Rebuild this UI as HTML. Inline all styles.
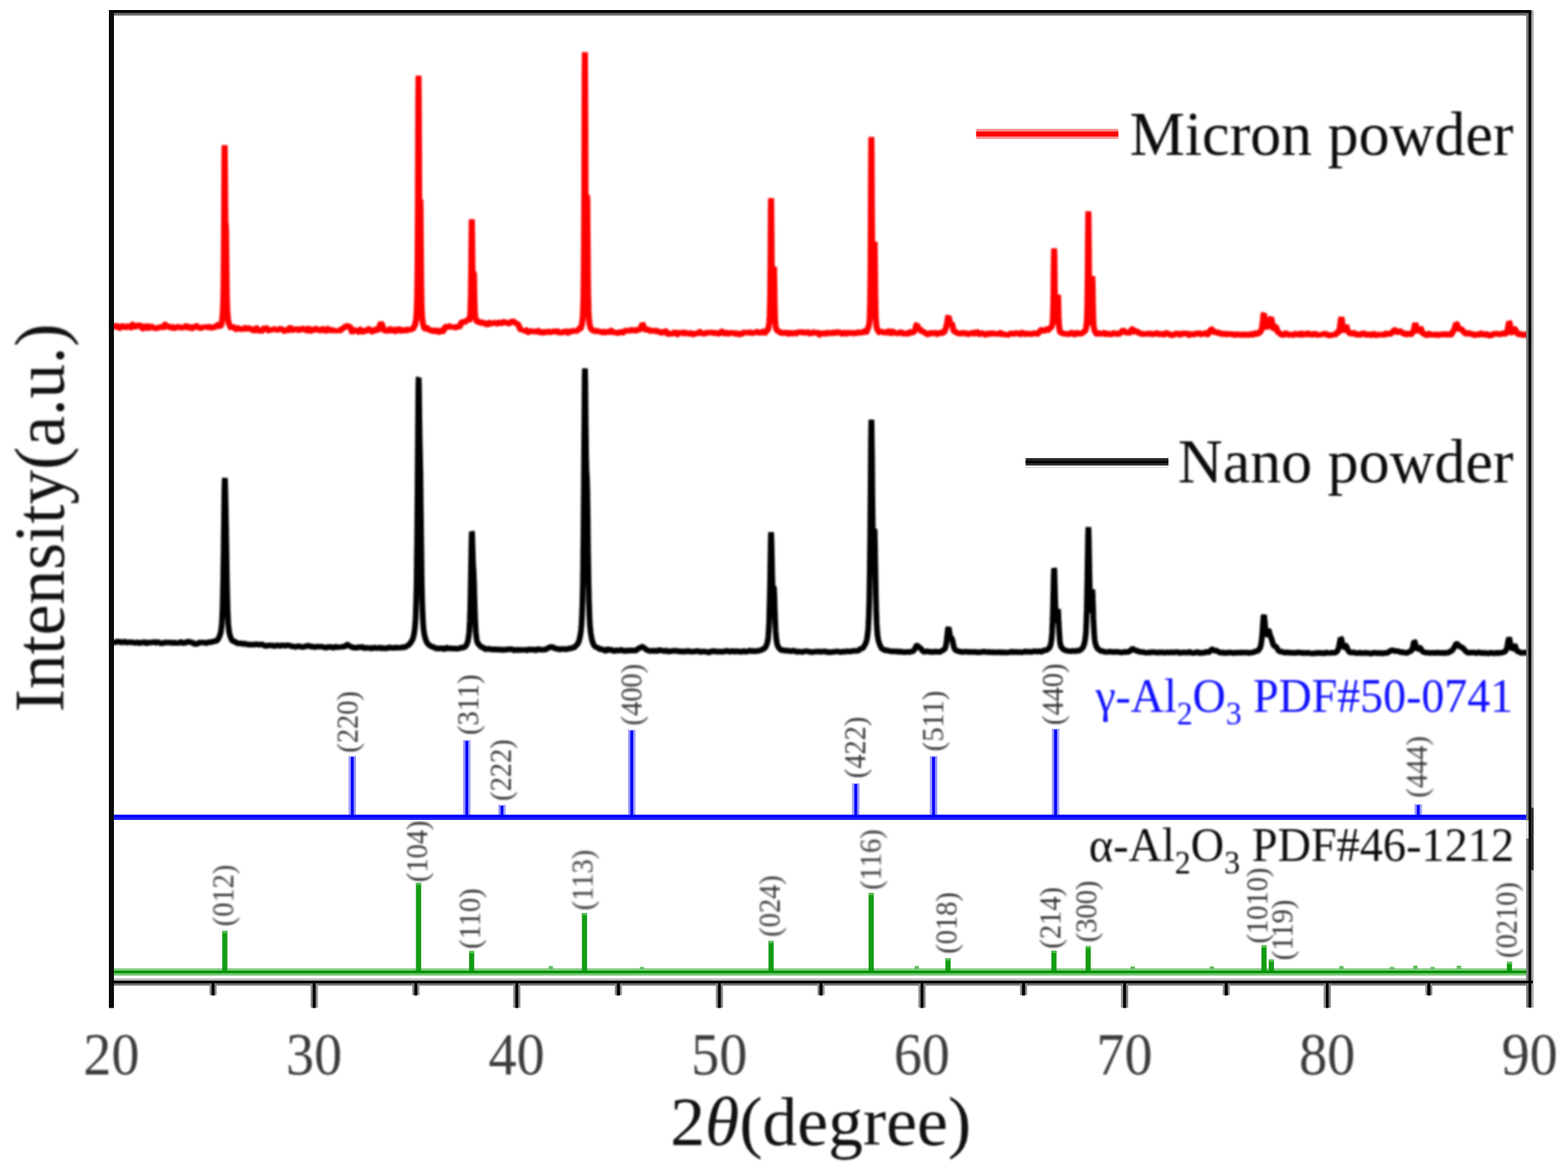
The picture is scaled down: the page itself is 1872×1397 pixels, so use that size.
<!DOCTYPE html>
<html lang="en"><head><meta charset="utf-8"><title>XRD patterns of micron and nano alumina powder</title>
<style>
html,body{margin:0;padding:0;background:#fff;}
body{width:1872px;height:1397px;overflow:hidden;font-family:"Liberation Serif","Times New Roman",serif;}
svg{display:block;}
</style></head><body>
<svg width="1872" height="1397" viewBox="0 0 1872 1397" font-family="'Liberation Serif', 'Times New Roman', serif">
<rect width="1872" height="1397" fill="#fff"/>
<defs><filter id="soft" filterUnits="userSpaceOnUse" x="0" y="0" width="1872" height="1397" color-interpolation-filters="sRGB"><feGaussianBlur stdDeviation="1"/></filter><filter id="soft2" filterUnits="userSpaceOnUse" x="0" y="0" width="1872" height="1397" color-interpolation-filters="sRGB"><feGaussianBlur stdDeviation="0.45"/></filter></defs>
<g filter="url(#soft)">
<g fill="none" stroke-linejoin="bevel">
<path d="M133.2 391.7L133.9 391.8L134.7 389.3L135.4 388.8L136.1 388.5L136.8 389.7L137.6 389.5L138.3 389.7L139 389.4L139.7 389L140.5 389.6L141.2 390.6L141.9 392.6L142.6 392.1L143.4 391.2L144.1 389.6L144.8 388.5L145.5 389.5L146.3 389.1L147 389.4L147.7 388.6L148.4 390.4L149.2 391.3L149.9 390.8L150.6 389.3L151.3 389.5L152.1 390.1L152.8 390.1L153.5 389.5L154.2 390.2L155 392L155.7 391.4L156.4 390.4L157.1 388.5L157.9 387.7L158.6 387.5L159.3 387.4L160.1 389.8L160.8 390.3L161.5 389.9L162.2 389.6L163 389.5L163.7 389.4L164.4 388.5L165.1 388.4L165.9 389L166.6 389.4L167.3 388.3L168 388.7L168.8 389.4L169.5 391.5L170.2 392.5L170.9 392.5L171.7 393L172.4 391.5L173.1 391.3L173.8 389L174.6 389.4L175.3 387.5L176 389.5L176.7 390.8L177.5 392L178.2 392.5L178.9 391.1L179.6 391.3L180.4 390.2L181.1 390L181.8 390.2L182.5 391.4L183.3 391.4L184 391.8L184.7 390.3L185.5 392.2L186.2 392L186.9 392.5L187.6 391.8L188.4 391.6L189.1 390.2L189.8 390.7L190.5 389.6L191.3 390.7L192 390.2L192.7 390.6L193.4 390.5L194.2 390.9L194.9 391.5L195.6 390.8L196.3 388L197.1 387.4L197.8 387.6L198.5 389.2L199.2 389.2L200 389.9L200.7 389.8L201.4 390.4L202.1 390.6L202.9 390.4L203.6 390.3L204.3 391.3L205 392.5L205.8 391.8L206.5 390.3L207.2 390.1L207.9 391.8L208.7 392L209.4 391.2L210.1 389.9L210.8 390.3L211.6 390.8L212.3 391L213 390.4L213.8 389.9L214.5 390.8L215.2 390.4L215.9 391.1L216.7 391.1L217.4 391.9L218.1 391.1L218.8 391.4L219.6 390.6L220.3 391.5L221 390L221.7 389.3L222.5 389.2L223.2 389.9L223.9 391L224.6 391.1L225.4 390.4L226.1 390L226.8 389.7L227.5 391.4L228.3 392.5L229 392.2L229.7 391.3L230.4 390.5L231.2 390.5L231.9 390.7L232.6 390.7L233.3 389.9L234.1 388.7L234.8 389.1L235.5 390.3L236.2 391.7L237 391.2L237.7 391.6L238.4 391.1L239.2 391.4L239.9 391.5L240.6 391.6L241.3 391.1L242.1 391.2L242.8 390.1L243.5 390.7L244.2 390L245 391.1L245.7 390.5L246.4 390.5L247.1 390.1L247.9 391.2L248.6 390.7L249.3 390.9L250 390L250.8 389.6L251.5 391.3L252.2 391.4L252.9 391.3L253.7 390.4L254.4 389.7L255.1 390.9L255.8 390.5L256.6 390.7L257.3 390.1L257.5 389.8L257.8 389.4L258 389.1L258.3 389.2L258.5 389.3L258.7 389.3L259 389L259.2 388.7L259.5 388.4L259.7 388.2L260 387.9L260.2 387.7L260.4 387.6L260.7 387.5L260.9 387.4L261.2 387.9L261.4 388.4L261.6 388.8L261.9 389.1L262.1 389.3L262.4 389.5L262.6 389.7L262.9 389.9L263.1 390L263.3 389.6L263.6 389.1L263.8 388.6L264.1 387.8L264.3 386.9L264.6 385.9L264.8 384.6L265 383.1L265.3 381.4L265.5 379.1L265.8 376.4L266 372.9L266.2 368.8L266.5 362.8L266.7 353.4L267 338.2L267.2 314.7L267.5 280.7L267.7 237.9L267.9 194.9L268.2 173.3L268.4 187.2L268.7 220.4L268.9 249.8L269.1 265.1L269.4 267.7L269.6 267.3L269.9 276.9L270.1 298L270.4 321.6L270.6 340.9L270.8 354.8L271.1 364L271.3 370.3L271.6 374.5L271.8 377.4L272.1 379.6L272.3 381.4L272.5 382.8L272.8 384.2L273 385.5L273.3 386.6L273.5 387.1L273.7 387.4L274 387.7L274.2 388.4L274.5 389.1L274.7 389.8L275 390.2L275.2 390.6L275.4 391L275.7 391.3L275.9 391.6L276.2 391.9L276.4 391.5L276.6 391.1L276.9 390.7L277.1 390.4L277.4 390.2L277.6 389.9L277.9 390.1L278.1 390.2L278.3 390.3L278.6 390.5L278.8 390.7L279.1 390.9L279.3 391.1L279.5 391.3L279.8 391.5L280 391.7L280.3 391.9L280.5 392.1L280.8 392.4L281 392.7L281.2 393.1L281.5 393.3L281.7 393.4L282 393.6L282.2 393.4L282.5 393.3L282.7 393.1L282.9 392.9L283.2 392.7L283.4 392.5L283.7 392.2L283.9 391.9L284.1 391.6L284.4 391.5L284.6 391.4L284.9 391.3L285.1 391.7L285.4 392L285.6 392.4L285.8 392.4L286.1 392.4L286.3 392.4L287 394.1L287.8 392.7L288.5 393.2L289.2 392.6L290 392.9L290.7 393L291.4 392.2L292.1 391.9L292.9 391.5L293.6 391.3L294.3 392.7L295 392.7L295.8 394.3L296.5 391.5L297.2 391.6L297.9 390.9L298.7 392.5L299.4 393.2L300.1 393.3L300.8 393.3L301.6 392.9L302.3 394.3L303 394.7L303.7 394.6L304.5 392.5L305.2 392.5L305.9 391.4L306.6 391.6L307.4 393.2L308.1 394.7L308.8 395.3L309.5 394.4L310.3 395L311 394.9L311.7 395.6L312.4 395.1L313.2 394.8L313.9 394.6L314.6 392.4L315.4 391.9L316.1 391L316.8 391.9L317.5 392.2L318.3 391.7L319 391.8L319.7 393.7L320.4 394.6L321.2 395L321.9 394.1L322.6 393.5L323.3 394.2L324.1 393.5L324.8 394.8L325.5 393.3L326.2 393.6L327 392.6L327.7 392.8L328.4 393L329.1 392.4L329.9 394.2L330.6 393.9L331.3 394.9L332 393.9L332.8 394.2L333.5 392.5L334.2 392.5L334.9 391.6L335.7 393L336.4 392.9L337.1 393.7L337.8 393L338.6 394.3L339.3 395.4L340 395.8L340.8 394.6L341.5 393.3L342.2 394.3L342.9 395.5L343.7 394.6L344.4 393.4L345.1 391.5L345.8 391.6L346.6 390.9L347.3 391.8L348 391.8L348.7 393.9L349.5 394.2L350.2 394.3L350.9 392.7L351.6 391.8L352.4 393.3L353.1 393.5L353.8 392.9L354.5 392L355.3 392.8L356 393.4L356.7 394.4L357.4 394.4L358.2 395.1L358.9 393.5L359.6 393.4L360.3 393L361.1 392.1L361.8 392.3L362.5 391.3L363.2 392.7L364 391.6L364.7 394.1L365.4 394.3L366.1 395.8L366.9 395.1L367.6 394.1L368.3 392.1L369.1 391.3L369.8 392.8L370.5 394.3L371.2 395L372 395.1L372.7 394.1L373.4 393.8L374.1 394.4L374.9 395L375.6 393.6L376.3 392.2L377 392.3L377.8 393.8L378.5 393.4L379.2 393.8L379.9 392.1L380.7 393.3L381.4 394.2L382.1 396.5L382.8 395L383.6 394.2L384.3 391.5L385 392.6L385.7 392.4L386.5 393.7L387.2 393.7L387.9 393.9L388.6 395.1L389.4 395L390.1 395.1L390.8 393.2L391.5 392.4L392.3 392L393 393.4L393.7 394.2L394.5 395.5L395.2 394.7L395.9 394.6L396.6 393.8L397.4 394.2L398.1 394.7L398.8 394.2L399.5 395.2L400.3 394.7L401 395.8L401.7 394.8L402.4 396L403.2 394.4L403.9 394.7L404.6 393.4L405.3 394.4L406.1 394.8L406.8 394.3L407.5 393.3L408.2 391.8L409 392.5L409.7 391.9L410.4 392.2L411.1 390.6L411.9 390.3L412.6 389.1L413.3 389.4L414 389.3L414.8 389.4L415.5 389.6L416.2 390.5L416.9 390L417.7 390.4L418.4 391.2L419.1 394L419.9 395.8L420.6 396.4L421.3 395.9L422 394.1L422.8 393.8L423.5 394.2L424.2 395.7L424.9 395.1L425.7 394.8L426.4 394.5L427.1 396.3L427.8 396.3L428.6 395.5L429.3 393.9L430 393.5L430.7 393.4L431.5 394.4L432.2 395.3L432.9 396.2L433.6 396.4L434.4 395.5L435.1 395.2L435.8 394.3L436.5 394.6L437.3 395.1L438 395.3L438.7 394.1L439.4 393.2L440.2 392.8L440.9 393L441.6 392.6L442.3 393.7L443.1 395.7L443.8 395.8L444.5 395.8L445.3 395.5L446 395.1L446.7 394.4L447.4 393.5L448.2 394.3L448.9 393.2L449.6 392.9L450.3 393.2L451.1 394.6L451.8 395.1L452.5 392.5L453.2 390.2L454 386.8L454.7 385.9L455.4 386.7L456.1 387.3L456.9 390.3L457.6 391.6L458.3 393.8L459 394.4L459.8 394.6L460.5 394.7L461.2 394.8L461.9 394.8L462.7 395.1L463.4 394.7L464.1 394.6L464.8 393.5L465.6 392.9L466.3 393L467 394.5L467.7 394.8L468.5 395.2L469.2 393.3L469.9 393.5L470.7 394.5L471.4 395.7L472.1 395.7L472.8 394.8L473.6 393.7L474.3 393.6L475 393L475.7 393L476.5 393.6L477.2 394.6L477.9 395.4L478.6 395.1L479.4 393.9L480.1 393.5L480.8 393L481.5 394.4L482.3 394.7L483 395.7L483.7 394.9L484.4 393.4L485.2 393.5L485.9 394.4L486.6 394.5L487.3 393.9L488.1 393.8L488.8 393.9L489 394.2L489.3 394.4L489.5 394.7L489.8 394.3L490 393.9L490.2 393.6L490.5 393.5L490.7 393.4L491 393.3L491.2 393.1L491.5 392.9L491.7 392.7L491.9 392.7L492.2 392.7L492.4 392.7L492.7 392.6L492.9 392.5L493.1 392.4L493.4 392.1L493.6 391.7L493.9 391.3L494.1 390.5L494.4 389.7L494.6 388.8L494.8 388.8L495.1 388.8L495.3 388.7L495.6 387.6L495.8 386.4L496.1 385L496.3 384.2L496.5 383.1L496.8 381.7L497 378.9L497.3 375.4L497.5 371L497.7 365.7L498 357.6L498.2 344.6L498.5 323.5L498.7 290.4L499 242.3L499.2 180.7L499.4 119.4L499.7 90.4L499.9 115.3L500.2 171.5L500.4 226.3L500.6 263.9L500.9 281.3L501.1 280L501.4 265L501.6 245.5L501.9 238.2L502.1 254.2L502.3 284.3L502.6 314.2L502.8 337.5L503.1 353.8L503.3 364.3L503.5 371.1L503.8 375.5L504 378.6L504.3 381.1L504.5 383.1L504.8 384.8L505 386.1L505.2 387.2L505.5 388.2L505.7 389.3L506 390.3L506.2 391.2L506.5 391.5L506.7 391.8L506.9 392L507.2 392.1L507.4 392.2L507.7 392.2L507.9 391.8L508.1 391.4L508.4 391L508.6 390.9L508.9 390.8L509.1 390.7L509.4 391.1L509.6 391.5L509.8 391.8L510.1 392.3L510.3 392.8L510.6 393.3L510.8 393.3L511 393.4L511.3 393.4L511.5 393.6L511.8 393.8L512 394L512.3 393.7L512.5 393.4L512.7 393.1L513 393.1L513.2 393L513.5 393L513.7 392.8L514 392.7L514.2 392.5L514.4 393.4L514.7 394.2L514.9 395L515.2 395.4L515.4 395.7L515.6 396.1L515.9 395.9L516.1 395.7L516.4 395.5L516.6 395.2L516.9 394.9L517.1 394.6L517.3 394.6L517.6 394.7L517.8 394.8L518.5 396L519.3 395.5L520 394.6L520.7 394.1L521.4 394.7L522.2 396.1L522.9 397.4L523.6 396.7L524.4 395.4L525.1 394.1L525.8 394.5L526.5 395.1L527.3 395.4L528 395.5L528.7 395.6L529.4 394.9L530.2 393.7L530.9 391.5L531.6 390.6L532.3 390.2L533.1 389.6L533.8 390.3L534.5 390.6L535.2 391.3L536 390.4L536.7 389.2L537.4 388.9L538.1 390.5L538.9 390L539.6 390.6L540.3 389.9L541 391.3L541.8 390.9L542.5 390.9L543.2 390.1L543.9 390.5L544.7 390.9L545.4 390.9L546.1 390L546.8 389.1L547.6 389.6L548.3 390.1L549 389.7L549.8 387.9L550.5 385.6L551.2 384.6L551.9 384.7L552.4 384.6L552.7 384.5L552.9 384.4L553.1 384.3L553.4 384.2L553.6 384.2L553.9 384.1L554.1 384L554.3 384.4L554.6 384.7L554.8 385.1L555.1 384.8L555.3 384.5L555.6 384.2L555.8 384.2L556 384.1L556.3 384.1L556.5 383.5L556.8 383L557 382.4L557.3 382.4L557.5 382.4L557.7 382.3L558 382L558.2 381.7L558.5 381.3L558.7 381.6L558.9 381.9L559.2 382.1L559.4 382.5L559.7 382.9L559.9 383.2L560.2 382.7L560.4 382L560.6 381.1L560.9 379.7L561.1 378L561.4 375.5L561.6 371.7L561.8 365.9L562.1 356.9L562.3 343.1L562.6 323.2L562.8 298L563.1 273.3L563.3 261.7L563.5 272.1L563.8 294.9L564 317.4L564.3 333.6L564.5 343L564.7 345.3L565 341.4L565.2 333.2L565.5 325.3L565.7 324.6L566 333.5L566.2 346.5L566.4 358.3L566.7 366.5L566.9 372L567.2 375.3L567.4 377.8L567.7 379.4L567.9 380.6L568.1 381.4L568.4 382.1L568.6 382.6L568.9 383.2L569.1 383.7L569.3 384.2L569.6 384.2L569.8 384.2L570.1 384.2L570.3 384L570.6 383.7L570.8 383.5L571 383.7L571.3 383.8L571.5 384L571.8 384.1L572 384.3L572.2 384.5L572.5 384.9L572.7 385.4L573 385.9L573.2 385.8L573.5 385.8L573.7 385.8L573.9 385.5L574.2 385.1L574.4 384.8L574.7 384.9L574.9 384.9L575.2 385L575.4 385.1L575.6 385.1L575.9 385.1L576.1 385.3L576.4 385.6L576.6 385.8L576.8 385.6L577.1 385.3L577.3 385.1L577.6 385.3L577.8 385.4L578.1 385.5L578.3 385.8L578.5 386.1L578.8 386.3L579 386.5L579.3 386.7L579.5 386.9L579.7 386.9L580 387L580.2 387L580.5 387L580.7 387L581 387.1L581.2 387.3L581.4 387.5L581.7 387.8L582.4 387.4L583.1 386.5L583.9 385.3L584.6 385.2L585.3 385.7L586 386.5L586.8 386.3L587.5 386.1L588.2 384.9L588.9 385.9L589.7 385.6L590.4 386.4L591.1 385.3L591.8 385.3L592.6 384.7L593.3 386.2L594 386.6L594.7 386.9L595.5 385.3L596.2 384.8L596.9 385.2L597.6 386.8L598.4 386.3L599.1 385.4L599.8 384.4L600.6 384.8L601.3 384.4L602 384.5L602.7 385.3L603.5 385.2L604.2 385.2L604.9 385.2L605.6 386.5L606.4 386L607.1 386.7L607.8 386.2L608.5 385.7L609.3 384.7L610 383.5L610.7 384.2L611.4 382.7L612.2 383.6L612.9 382.4L613.6 384.2L614.3 384.7L615.1 385.9L615.8 385.8L616.5 386.6L617.2 385.9L618 386.9L618.7 387.2L619.4 389.4L620.1 390.4L620.9 393.1L621.6 393.5L622.3 394.3L623 393L623.8 394.6L624.5 393.7L625.2 395.3L626 394.8L626.7 395.4L627.4 393.8L628.1 394.1L628.9 395.5L629.6 396.1L630.3 396.7L631 396.6L631.8 396.6L632.5 394.9L633.2 395.2L633.9 395.8L634.7 396.8L635.4 395.4L636.1 394.1L636.8 395.3L637.6 396L638.3 396.4L639 395L639.7 395.8L640.5 395.8L641.2 395.8L641.9 394.5L642.6 394.8L643.4 395.9L644.1 396.7L644.8 397.3L645.5 396.8L646.3 397L647 396.6L647.7 396.5L648.4 397L649.2 397.2L649.9 396.8L650.6 396.3L651.3 396L652.1 396.6L652.8 396.6L653.5 396.9L654.3 395.8L655 395.9L655.7 396.4L656.4 396.5L657.2 397.2L657.9 396.6L658.6 397.3L659.3 395.4L660.1 395.8L660.8 395.4L661.5 396.1L662.2 395.8L663 395.8L663.7 395.5L664.4 394.5L665.1 395.1L665.9 396L666.6 396.9L667.3 397.1L668 396.6L668.8 396.5L669.5 395.8L670.2 397.2L670.9 397.2L671.7 396.5L672.4 394.7L673.1 395.5L673.8 395.8L674.6 396.2L675.3 395.5L676 395.6L676.7 396.5L677.5 397.2L678.2 397.3L678.9 397.3L679.7 395.8L680.4 395.7L681.1 395.2L681.8 395.8L682.6 395.9L683.3 396.2L684 395.2L684.7 395L685.5 393.8L686.2 395L686.9 395.8L687.4 396.3L687.6 396.6L687.9 396.1L688.1 395.7L688.4 395.2L688.6 395L688.8 394.8L689.1 394.6L689.3 394.5L689.6 394.4L689.8 394.2L690.1 394L690.3 393.9L690.5 393.7L690.8 393.3L691 393L691.3 392.6L691.5 392.5L691.7 392.3L692 392.1L692.2 392.2L692.5 392.3L692.7 392.4L693 392.2L693.2 392L693.4 391.7L693.7 391.1L693.9 390.3L694.2 389.5L694.4 388.5L694.6 387.3L694.9 385.9L695.1 384.2L695.4 382.2L695.6 379.6L695.9 376.2L696.1 371.8L696.3 365.6L696.6 356.3L696.8 341.6L697.1 318L697.3 281.4L697.6 228.3L697.8 160.5L698 93.4L698.3 62.2L698.5 91L698.8 156.1L699 221.3L699.2 270.8L699.5 301.4L699.7 315.3L700 314.9L700.2 302L700.5 278.7L700.7 251L700.9 232.9L701.2 240.6L701.4 269.6L701.7 302.9L701.9 330.5L702.1 350.2L702.4 363.2L702.6 371.4L702.9 376.6L703.1 380.3L703.4 383L703.6 385.1L703.8 386.6L704.1 387.9L704.3 388.9L704.6 390L704.8 390.9L705.1 391.7L705.3 392L705.5 392.2L705.8 392.4L706 392.8L706.3 393.2L706.5 393.6L706.7 393.8L707 394.1L707.2 394.3L707.5 394.4L707.7 394.4L708 394.5L708.2 394.6L708.4 394.7L708.7 394.8L708.9 394.8L709.2 394.8L709.4 394.7L709.6 395L709.9 395.2L710.1 395.4L710.4 395.4L710.6 395.3L710.9 395.3L711.1 394.9L711.3 394.6L711.6 394.3L711.8 394.6L712.1 394.9L712.3 395.2L712.6 395.2L712.8 395.1L713 395.1L713.3 395.2L713.5 395.4L713.8 395.5L714 395.5L714.2 395.4L714.5 395.3L714.7 395.2L715 395.1L715.2 394.9L715.5 395.3L715.7 395.8L715.9 396.2L716.2 396.2L716.4 396.2L716.7 396.1L717.4 397.5L718.1 397L718.8 396.1L719.6 394.8L720.3 395.7L721 396.1L721.7 396.9L722.5 397L723.2 396.9L723.9 397.1L724.6 396.1L725.4 396.4L726.1 396L726.8 395.9L727.5 396.7L728.3 397.7L729 396.4L729.7 394.6L730.5 394.4L731.2 396L731.9 396.8L732.6 397.2L733.4 396.3L734.1 397.2L734.8 396.7L735.5 398L736.3 397.5L737 397.9L737.7 397.5L738.4 397L739.2 396.8L739.9 396.9L740.6 396.4L741.3 396.6L742.1 397.1L742.8 398.4L743.5 397.6L744.2 397L745 395.9L745.7 395.2L746.4 395L747.1 395.1L747.9 395.2L748.6 396L749.3 394.9L750 394.7L750.8 393.2L751.5 394.7L752.2 394.9L752.9 395L753.7 393.8L754.4 393.6L755.1 393L755.9 394L756.6 394.8L757.3 396L758 395.1L758.8 396.1L759.5 395L760.2 394.2L760.9 392.6L761.7 393.1L762.4 394.4L763.1 393.7L763.8 393.4L764.6 392.9L765.3 391.6L766 389.3L766.7 386.4L767.5 387.4L768.2 389.2L768.9 391.1L769.6 392L770.4 393.1L771.1 393.8L771.8 394.7L772.5 393.9L773.3 393.8L774 393.6L774.7 393.8L775.4 394.6L776.2 395.3L776.9 396L777.6 395.3L778.3 394.2L779.1 394.8L779.8 394.8L780.5 395.2L781.3 394.4L782 394.9L782.7 395.6L783.4 395.5L784.2 394.9L784.9 395.2L785.6 395.7L786.3 396.9L787.1 396.2L787.8 396.6L788.5 397L789.2 397.8L790 397.4L790.7 396.6L791.4 396.2L792.1 396.5L792.9 397.1L793.6 396.6L794.3 395.4L795 395.4L795.8 396.3L796.5 398L797.2 398.7L797.9 398.8L798.7 398.4L799.4 398.1L800.1 397.7L800.8 398.7L801.6 398.3L802.3 398.6L803 398.1L803.7 398L804.5 396.9L805.2 396.9L805.9 395.6L806.6 396.7L807.4 397.2L808.1 399.4L808.8 399.4L809.6 398.5L810.3 396.6L811 397.4L811.7 397L812.5 398.3L813.2 396.1L813.9 396.8L814.6 396.7L815.4 398.1L816.1 398.1L816.8 397.3L817.5 396.7L818.3 397.2L819 397.9L819.7 398.3L820.4 397.9L821.2 397.2L821.9 397.8L822.6 398.3L823.3 398.4L824.1 397.9L824.8 397.8L825.5 397.9L826.2 398.9L827 399.1L827.7 399.3L828.4 398.8L829.1 398.8L829.9 398.3L830.6 398.2L831.3 397.2L832 397.8L832.8 397.8L833.5 397.6L834.2 397L835 395.9L835.7 396.2L836.4 397.2L837.1 397.9L837.9 397.9L838.6 397.5L839.3 398.2L840 398.5L840.8 398.2L841.5 397.4L842.2 397.7L842.9 397.8L843.7 397.8L844.4 397.1L845.1 396.9L845.8 397.5L846.6 396.4L847.3 397.7L848 397L848.7 397.5L849.5 396.9L850.2 396.3L850.9 397.2L851.6 397.4L852.4 398L853.1 397.6L853.8 397.6L854.5 397.6L855.3 397.8L856 397.5L856.7 398.6L857.4 398.4L858.2 398.2L858.9 398L859.6 397L860.4 396.8L861.1 395.3L861.8 395.6L862.5 396.8L863.3 397.8L864 399.5L864.7 398.4L865.4 398.5L866.2 397.6L866.9 397.4L867.6 397.1L868.3 397.4L869.1 398.4L869.8 398.4L870.5 398.5L871.2 397.6L872 397.8L872.7 396.9L873.4 397.6L874.1 397.3L874.9 398L875.6 397.3L876.3 398.1L877 398.3L877.8 398.4L878.5 398L879.2 397.9L879.9 398.3L880.7 398.4L881.4 398.9L882.1 399.3L882.8 399.4L883.6 398.1L884.3 398.2L885 398.9L885.8 399.4L886.5 398.3L887.2 396.2L887.9 396.8L888.7 396.5L889.4 398.4L890.1 396.8L890.8 397.3L891.6 396.8L892.3 397.8L893 397.4L893.7 397.1L894.5 397.1L895.2 397.3L895.9 397.1L896.6 397.1L897.4 397.2L898.1 397.6L898.8 397.6L899.5 397.8L900.3 397.1L901 397.7L901.7 397L902.4 397.8L903.2 395.8L903.9 396L904.6 394.7L905.3 396.7L906.1 397.2L906.8 397.3L907.5 396.5L908.2 397L909 397.5L909.7 398L909.9 397.5L910.2 397L910.4 396.5L910.7 396.3L910.9 396L911.2 395.7L911.4 395.7L911.6 395.6L911.9 395.6L912.1 396.2L912.4 396.7L912.6 397.3L912.8 397.4L913.1 397.4L913.3 397.5L913.6 397.4L913.8 397.3L914.1 397.2L914.3 396.6L914.5 395.9L914.8 395.3L915 395.4L915.3 395.5L915.5 395.5L915.7 395.1L916 394.7L916.2 394.2L916.5 393.9L916.7 393.5L917 393.1L917.2 391.9L917.4 390.6L917.7 389.1L917.9 387.9L918.2 386.4L918.4 384.3L918.6 381.5L918.9 377.2L919.1 370.3L919.4 359.5L919.6 342.3L919.9 317.2L920.1 284.2L920.3 251.6L920.6 236.5L920.8 251L921.1 283L921.3 315.2L921.6 339.8L921.8 356.2L922 365.8L922.3 370.8L922.5 372.2L922.8 370.1L923 363.8L923.2 353.4L923.5 339.3L923.7 325L924 318.4L924.2 325.2L924.5 340.3L924.7 355.6L924.9 367.7L925.2 376.6L925.4 382.5L925.7 386.3L925.9 388.6L926.1 390.2L926.4 391.4L926.6 392.3L926.9 393.1L927.1 393.7L927.4 394.1L927.6 394.4L927.8 394.6L928.1 394.7L928.3 394.8L928.6 394.8L928.8 395.2L929.1 395.4L929.3 395.7L929.5 395.6L929.8 395.4L930 395.3L930.3 395.7L930.5 396.2L930.7 396.6L931 396.7L931.2 396.9L931.5 397L931.7 397.1L932 397.2L932.2 397.3L932.4 397.3L932.7 397.2L932.9 397.2L933.2 397.2L933.4 397.2L933.6 397.2L933.9 397.4L934.1 397.5L934.4 397.7L934.6 397.6L934.9 397.6L935.1 397.5L935.3 397.4L935.6 397.2L935.8 397.1L936.1 396.8L936.3 396.5L936.5 396.2L936.8 396.6L937 396.9L937.3 397.2L937.5 397.1L937.8 396.9L938 396.8L938.2 397L938.5 397.3L938.7 397.5L939.5 397.8L940.2 398.7L940.9 398.5L941.6 397.4L942.4 396.7L943.1 397.3L943.8 397.8L944.5 398.1L945.3 399L946 398.4L946.7 398.2L947.4 396.8L948.2 397.3L948.9 397.7L949.6 397.7L950.3 398L951.1 398.1L951.8 398.1L952.5 396.6L953.2 396.7L954 396.4L954.7 397.3L955.4 396.8L956.1 396.7L956.9 396.6L957.6 396.7L958.3 397.1L959 397.6L959.8 397.2L960.5 397.3L961.2 396.6L961.9 396.9L962.7 397.1L963.4 397.5L964.1 397L964.9 396.8L965.6 396.9L966.3 398.1L967 398.2L967.8 397.9L968.5 396.9L969.2 397.8L969.9 397.6L970.7 397.6L971.4 396.6L972.1 396.2L972.8 397.2L973.6 397.4L974.3 398.5L975 397.5L975.7 397.2L976.5 397.4L977.2 398.2L977.9 399.8L978.6 399.9L979.4 398.6L980.1 397.4L980.8 396.7L981.5 398.1L982.3 398L983 398.4L983.7 397.7L984.4 398.1L985.2 398.5L985.9 398.4L986.6 397.2L987.3 396L988.1 397L988.8 398L989.5 398.4L990.3 397.2L991 397.6L991.7 397.9L992.4 398.3L993.2 397.5L993.9 397.3L994.6 397.2L995.3 397.8L996.1 398.4L996.8 397.7L997.5 396.7L998.2 396.1L999 397L999.7 397L1000.4 396.8L1001.1 396.5L1001.9 397L1002.6 397.1L1003.3 397.2L1004 397.8L1004.8 398.4L1005.5 398.7L1006.2 398.4L1006.9 397.7L1007.7 397.3L1008.4 397.4L1009.1 397.8L1009.8 398.4L1010.6 398.2L1011.3 398.2L1012 398L1012.7 397.2L1013.5 397.1L1014.2 396.6L1014.9 397.7L1015.7 397.4L1016.4 397.8L1017.1 397.2L1017.8 397.7L1018.6 397.9L1019.3 398L1020 397.8L1020.7 397.5L1021.5 397.9L1022.2 397.7L1022.9 397.6L1023.6 397.1L1024.4 396.8L1025.1 396.8L1025.8 397.1L1026.5 397.1L1027.3 397.7L1028 397.1L1028.7 397.7L1029.4 397.1L1029.7 396.9L1029.9 396.7L1030.2 396.5L1030.4 396.4L1030.6 396.2L1030.9 396L1031.1 395.7L1031.4 395.3L1031.6 395L1031.9 395.1L1032.1 395.3L1032.3 395.4L1032.6 395.4L1032.8 395.4L1033.1 395.4L1033.3 395.8L1033.6 396.2L1033.8 396.5L1034 396.5L1034.3 396.4L1034.5 396.3L1034.8 395.8L1035 395.2L1035.2 394.6L1035.5 393.9L1035.7 393.2L1036 392.4L1036.2 391.9L1036.5 391.4L1036.7 390.7L1036.9 390L1037.2 389.2L1037.4 388L1037.7 386.6L1037.9 384.6L1038.1 382L1038.4 377.4L1038.6 370.8L1038.9 360.4L1039.1 343.9L1039.4 318.2L1039.6 280.9L1039.8 233L1040.1 185.6L1040.3 163.6L1040.6 184.6L1040.8 230.9L1041.1 277.6L1041.3 314.2L1041.5 339L1041.8 354.4L1042 362.9L1042.3 366.9L1042.5 367.7L1042.7 365.2L1043 358.5L1043.2 346.6L1043.5 328.6L1043.7 306.9L1044 289.4L1044.2 288.5L1044.4 305.5L1044.7 328.9L1044.9 349.3L1045.2 364.3L1045.4 374.2L1045.6 380.5L1045.9 384.5L1046.1 387L1046.4 389.1L1046.6 390.6L1046.9 391.9L1047.1 392.6L1047.3 393.1L1047.6 393.5L1047.8 394.1L1048.1 394.6L1048.3 395.1L1048.5 395.3L1048.8 395.4L1049 395.6L1049.3 396L1049.5 396.4L1049.8 396.8L1050 397.1L1050.2 397.4L1050.5 397.6L1050.7 397.1L1051 396.5L1051.2 396L1051.5 395.9L1051.7 395.9L1051.9 395.8L1052.2 395.5L1052.4 395.1L1052.7 394.8L1052.9 395.2L1053.1 395.6L1053.4 396L1053.6 396.1L1053.9 396.2L1054.1 396.2L1054.4 396.5L1054.6 396.8L1054.8 397L1055.1 397L1055.3 397L1055.6 396.9L1055.8 397.1L1056 397.3L1056.3 397.4L1056.5 397.1L1056.8 396.9L1057 396.6L1057.3 396.9L1057.5 397.1L1057.7 397.4L1058 397.3L1058.2 397.1L1058.5 397L1059.2 396.9L1059.9 395.8L1060.6 395.1L1061.4 395.5L1062.1 396.3L1062.8 397.7L1063.5 398.5L1064.3 397.9L1065 396.3L1065.7 395.9L1066.5 395.8L1067.2 396.7L1067.9 396.6L1068.6 398.3L1069.4 397.6L1070.1 398.1L1070.8 397.8L1071.5 398.3L1072.3 397.9L1073 397.8L1073.7 397.1L1074.4 396.7L1075.2 395.4L1075.9 396.5L1076.6 397.6L1077.3 398L1078.1 398.8L1078.8 398.4L1079.5 398.4L1080.2 397.4L1081 398L1081.7 398L1082.4 397.9L1083.1 398.1L1083.9 398.7L1084.6 399.2L1085.3 398L1086 396.9L1086.8 396.4L1087.5 396.7L1088.2 396.9L1088.9 396.8L1089.7 397.1L1090.4 396.6L1091.1 396.4L1091.8 395.2L1092.6 393.8L1093.3 390.8L1094 387.9L1094.8 387.4L1095.5 389.8L1096.2 392.1L1096.9 393L1097.7 393L1098.4 392.2L1099.1 393.6L1099.8 395.2L1100.6 396.1L1101.3 395.9L1102 395.5L1102.7 396.3L1103.5 396.7L1104.2 397.2L1104.9 397.1L1105.6 398L1106.4 399.1L1107.1 399.1L1107.8 399.4L1108.5 398.8L1109.3 399.3L1110 398.4L1110.7 397.7L1111.4 397.4L1112.2 398L1112.9 397.9L1113.6 397.7L1114.3 397.2L1115.1 398.1L1115.8 397.7L1116.5 397.3L1117.2 397.5L1118 398.7L1118.7 398.9L1119.4 398.9L1120.2 398.2L1120.9 398.3L1121.6 397.7L1122.3 397.5L1123.1 397L1123.8 397.1L1124.5 397.6L1125.2 397.7L1126 397.8L1126.7 396.8L1127.4 396.6L1128.1 394.4L1128.9 393L1129.6 390.6L1130.3 387.8L1131 383.6L1131.8 378.6L1132.5 377.6L1133.2 381.1L1133.9 384.5L1134.7 386.6L1135.4 386.3L1136.1 385.6L1136.8 387.7L1137.6 390.4L1138.3 394L1139 395.2L1139.7 396.6L1140.5 396.3L1141.2 396.6L1141.9 396.5L1142.6 397.2L1143.4 398L1144.1 398L1144.8 398L1145.6 397.6L1146.3 398.2L1147 398.3L1147.7 398L1148.5 397.5L1149.2 397.6L1149.9 397.8L1150.6 397.8L1151.4 397.7L1152.1 397.9L1152.8 398.2L1153.5 398.1L1154.3 398.1L1155 398.5L1155.7 399L1156.4 398.9L1157.2 398.5L1157.9 398.3L1158.6 398.2L1159.3 398.4L1160.1 397.6L1160.8 397.5L1161.5 397.6L1162.2 398.5L1163 398.4L1163.7 398.3L1164.4 397.4L1165.1 396.9L1165.9 395.6L1166.6 396.3L1167.3 397.6L1168 399.5L1168.8 399.2L1169.5 398.8L1170.2 398.6L1171 398.9L1171.7 397.9L1172.4 397.9L1173.1 397.9L1173.9 398.6L1174.6 398.7L1175.3 399L1176 399.6L1176.8 399.5L1177.5 399.3L1178.2 398.5L1178.9 398.2L1179.7 398.3L1180.4 399L1181.1 398.8L1181.8 398.5L1182.6 398.2L1183.3 397.9L1184 398.2L1184.7 398.1L1185.5 398.4L1186.2 398.6L1186.9 398.1L1187.6 398.2L1188.4 397.6L1189.1 399L1189.8 398.4L1190.5 399L1191.3 398.7L1192 398.9L1192.7 398.4L1193.4 397.3L1194.2 397.5L1194.9 398.2L1195.6 399.1L1196.4 399.1L1197.1 398.7L1197.8 398.6L1198.5 399.1L1199.3 398.9L1200 400.2L1200.7 399.5L1201.4 400.3L1202.2 399.6L1202.9 400.2L1203.6 399.8L1204.3 399.3L1205.1 399.5L1205.8 398.3L1206.5 398.2L1207.2 397.5L1208 398.3L1208.7 398.1L1209.4 398.4L1210.1 398.8L1210.9 398.6L1211.6 399L1212.3 397.9L1213 397.7L1213.8 396.8L1214.5 397.7L1215.2 397.9L1215.9 398.6L1216.7 398.2L1217.4 398.9L1218.1 399L1218.8 399.1L1219.6 397.9L1220.3 397.1L1221 396.7L1221.8 397.9L1222.5 398.7L1223.2 398.8L1223.9 399.1L1224.7 398.7L1225.4 398.3L1226.1 397.9L1226.8 398.6L1227.6 399.5L1228.3 398.7L1229 398.7L1229.7 398.5L1230.5 398.8L1231.2 398.5L1231.9 398.8L1232.6 398.7L1233.4 398L1234.1 398.2L1234.8 397.5L1235.5 398.1L1236.3 397.9L1237 399L1237.7 398.7L1238.4 398.7L1239.2 398.3L1239.9 397.4L1240.6 396.6L1241.3 395.8L1242.1 395L1242.8 393.9L1243.5 393.7L1244.2 394.6L1245 394.7L1245.7 394.3L1246.4 394L1247.1 394.9L1247.6 395L1247.9 395L1248.1 394.6L1248.4 394.2L1248.6 393.8L1248.8 393.5L1249.1 393.3L1249.3 393L1249.6 393L1249.8 393L1250.1 393L1250.3 393.6L1250.5 394.1L1250.8 394.6L1251 394.5L1251.3 394.4L1251.5 394.3L1251.7 393.9L1252 393.5L1252.2 393.1L1252.5 392.8L1252.7 392.5L1253 392.2L1253.2 392.1L1253.4 392L1253.7 391.8L1253.9 391.8L1254.2 391.8L1254.4 391.8L1254.6 391.3L1254.9 390.8L1255.1 390.2L1255.4 389.9L1255.6 389.6L1255.9 389L1256.1 388.2L1256.3 387L1256.6 385.4L1256.8 382.9L1257.1 379L1257.3 372.4L1257.6 361.5L1257.8 345.8L1258 325.8L1258.3 305.9L1258.5 296.7L1258.8 305.1L1259 324.3L1259.2 343.6L1259.5 358.6L1259.7 369.3L1260 376L1260.2 380.1L1260.5 382.4L1260.7 383.8L1260.9 384.6L1261.2 385.1L1261.4 384.9L1261.7 383.7L1261.9 380.8L1262.1 375.9L1262.4 368.8L1262.6 360L1262.9 352.7L1263.1 352.1L1263.4 358.9L1263.6 368.5L1263.8 377.2L1264.1 383.7L1264.3 388.1L1264.6 390.9L1264.8 393L1265.1 394.5L1265.3 395.7L1265.5 396.2L1265.8 396.6L1266 396.9L1266.3 397L1266.5 397L1266.7 397.1L1267 397.1L1267.2 397.1L1267.5 397.2L1267.7 397.3L1268 397.4L1268.2 397.6L1268.4 397.7L1268.7 397.9L1268.9 398.1L1269.2 398.1L1269.4 398.2L1269.6 398.3L1269.9 398.5L1270.1 398.8L1270.4 399L1270.6 398.7L1270.9 398.5L1271.1 398.2L1271.3 398.3L1271.6 398.4L1271.8 398.6L1272.1 398.5L1272.3 398.5L1272.5 398.4L1272.8 398.7L1273 398.9L1273.3 399.1L1273.5 399L1273.8 398.9L1274 398.8L1274.2 398.9L1274.5 398.9L1274.7 398.9L1275 399L1275.2 399L1275.5 399.1L1275.7 399L1275.9 398.9L1276.2 398.9L1276.4 398.8L1276.7 398.7L1276.9 398.6L1277.6 398.2L1278.4 397.8L1279.1 397.3L1279.8 397.3L1280.5 397.9L1281.3 398.5L1282 399L1282.7 399.5L1283.4 399.1L1284.2 398.7L1284.9 397.8L1285.6 397.4L1286.3 397.5L1287.1 398.4L1287.8 398.1L1288.5 398.4L1288.8 398.2L1289 398L1289.2 397.7L1289.5 398L1289.7 398.3L1290 398.6L1290.2 398.4L1290.4 398.2L1290.7 398.1L1290.9 398.1L1291.2 398.2L1291.4 398.2L1291.7 398L1291.9 397.7L1292.1 397.5L1292.4 397.6L1292.6 397.6L1292.9 397.7L1293.1 397.2L1293.4 396.8L1293.6 396.3L1293.8 396.2L1294.1 396.2L1294.3 396.2L1294.6 396L1294.8 395.7L1295 395.5L1295.3 395.2L1295.5 394.8L1295.8 394.4L1296 393.9L1296.3 393.2L1296.5 392.4L1296.7 391L1297 389.4L1297.2 387.2L1297.5 384.9L1297.7 381.3L1297.9 375.3L1298.2 364.8L1298.4 348.5L1298.7 324.9L1298.9 295.1L1299.2 265.7L1299.4 252.3L1299.6 265.6L1299.9 295L1300.1 324.7L1300.4 347.8L1300.6 363.5L1300.9 373.3L1301.1 379.4L1301.3 383L1301.6 385.1L1301.8 386.3L1302.1 386.7L1302.3 386.2L1302.5 384.5L1302.8 381L1303 374.9L1303.3 365.3L1303.5 352.4L1303.8 338.4L1304 329.8L1304.2 333.2L1304.5 345.9L1304.7 360.3L1305 372.1L1305.2 380.5L1305.4 385.7L1305.7 388.9L1305.9 390.8L1306.2 392.3L1306.4 393.4L1306.7 394.3L1306.9 394.9L1307.1 395.4L1307.4 395.9L1307.6 396.4L1307.9 397L1308.1 397.5L1308.4 397.7L1308.6 398L1308.8 398.2L1309.1 398.5L1309.3 398.7L1309.6 398.9L1309.8 398.8L1310 398.6L1310.3 398.4L1310.5 398.4L1310.8 398.3L1311 398.2L1311.3 398L1311.5 397.8L1311.7 397.6L1312 397.7L1312.2 397.7L1312.5 397.7L1312.7 398L1312.9 398.3L1313.2 398.6L1313.4 398.7L1313.7 398.8L1313.9 398.9L1314.2 399.1L1314.4 399.3L1314.6 399.5L1314.9 399L1315.1 398.4L1315.4 397.9L1315.6 398L1315.8 398.1L1316.1 398.2L1316.3 398.2L1316.6 398.2L1316.8 398.2L1317.1 398L1317.3 397.8L1317.5 397.6L1318.3 397.4L1319 397.6L1319.7 399L1320.4 399.5L1321.2 398.8L1321.9 398.6L1322.6 398.3L1323.3 398.4L1324.1 398.2L1324.8 399.4L1325.5 399.3L1326.3 399.7L1327 398.9L1327.7 398.7L1328.4 397.9L1329.2 397.7L1329.9 398.1L1330.6 398.6L1331.3 398.2L1332.1 398L1332.8 398.3L1333.5 398.6L1334.2 398.6L1335 398.1L1335.7 398.8L1336.4 398.7L1337.1 397.8L1337.9 396.8L1338.6 396.9L1339.3 396.9L1340 395L1340.8 393.5L1341.5 394.5L1342.2 395.8L1342.9 397.3L1343.7 396.7L1344.4 397.2L1345.1 396.9L1345.8 397.2L1346.6 397.1L1347.3 397L1348 397.3L1348.7 397.2L1349.5 396.5L1350.2 395.3L1350.9 393.8L1351.7 392.8L1352.4 392.7L1353.1 394.3L1353.8 396.1L1354.6 396.3L1355.3 395.4L1356 395.5L1356.7 395.7L1357.5 396.4L1358.2 396.1L1358.9 396.1L1359.6 397.5L1360.4 398.1L1361.1 399L1361.8 397.8L1362.5 398.7L1363.3 398.7L1364 399.2L1364.7 398.6L1365.4 398.7L1366.2 399.4L1366.9 398.7L1367.6 398.9L1368.3 398.1L1369.1 398.7L1369.8 398.2L1370.5 398.6L1371.2 398.3L1372 398.3L1372.7 398.4L1373.4 398.7L1374.1 398.7L1374.9 398.6L1375.6 398.9L1376.3 399L1377 398.9L1377.8 398.5L1378.5 398.9L1379.2 398.5L1380 398.2L1380.7 398L1381.4 397.9L1382.1 398.2L1382.9 398L1383.6 398.8L1384.3 399L1385 398.9L1385.8 398.4L1386.5 398.8L1387.2 398.7L1387.9 399L1388.7 399.4L1389.4 399.5L1390.1 399.3L1390.8 398.3L1391.6 398.1L1392.3 397.8L1393 397.7L1393.7 397.8L1394.5 398.4L1395.2 399.1L1395.9 399.1L1396.6 399.1L1397.4 398.4L1398.1 399.4L1398.8 400.3L1399.5 400.7L1400.3 400.1L1401 399.2L1401.7 399.5L1402.4 399.1L1403.2 398.4L1403.9 398.5L1404.6 398.3L1405.4 399L1406.1 398.3L1406.8 398.5L1407.5 398.7L1408.3 399.7L1409 400L1409.7 399.4L1410.4 398.9L1411.2 398.7L1411.9 398.2L1412.6 398.1L1413.3 397.4L1414.1 398.3L1414.8 398.1L1415.5 399.1L1416.2 398.3L1417 398.2L1417.7 398.4L1418.4 399.5L1419.1 400.1L1419.9 400.1L1420.6 399.1L1421.3 399L1422 398.9L1422.8 399.2L1423.5 399.5L1424.2 399.1L1424.9 399.9L1425.7 399.2L1426.4 399.2L1427.1 398.4L1427.8 398.2L1428.6 398.3L1429.3 398.3L1430 398.2L1430.8 398L1431.5 397.4L1432.2 397.9L1432.9 398.7L1433.7 399.1L1434.4 399.2L1435.1 398.8L1435.8 398.5L1436.6 398.7L1437.3 398.3L1438 398.5L1438.7 397.7L1439.5 397.6L1440.2 398.2L1440.9 399.3L1441.6 399.3L1442.4 398.7L1443.1 397.8L1443.8 396.9L1444.5 395.2L1445.3 394.6L1446 393L1446.7 393L1447.4 393.7L1448.2 395.4L1448.9 396.4L1449.6 396.4L1450.3 396.4L1451.1 396.1L1451.8 395.6L1452.5 396.5L1453.2 397.4L1454 397.8L1454.7 397.4L1455.4 397.2L1456.2 397.6L1456.9 398L1457.6 398.7L1458.3 398.7L1459.1 398.9L1459.8 398.6L1460.5 398.1L1461.2 398.5L1462 398.7L1462.7 400L1463.4 399.5L1464.1 399.1L1464.9 398.6L1465.6 398.9L1466.3 398.5L1467 398.8L1467.8 398.8L1468.5 399.5L1469.2 398.8L1469.9 399.3L1470.7 399L1471.4 399.1L1472.1 399.1L1472.8 399.6L1473.6 399.6L1474.3 399.6L1475 399.9L1475.7 400.3L1476.5 399.4L1477.2 399L1477.9 399.3L1478.6 399.4L1479.4 399.9L1480.1 399.4L1480.8 399.7L1481.6 399.5L1482.3 399.7L1483 400.2L1483.7 399.8L1484.5 399.8L1485.2 399.3L1485.9 399.4L1486.6 399.5L1487.4 399.7L1488.1 399.5L1488.8 399.6L1489.5 399.3L1490.3 399.9L1491 399.8L1491.7 399.8L1492.4 399L1493.2 398.7L1493.9 399.3L1494.6 399.7L1495.3 400L1496.1 399.4L1496.8 399.1L1497.5 398.4L1498.2 397.6L1499 397.8L1499.7 398L1500.4 398.7L1501.1 398.7L1501.9 398.2L1502.6 398.6L1503.3 397.4L1504 397.5L1504.8 395.7L1505.5 395L1506.2 393.2L1507 389.1L1507.7 382.8L1508.4 375.4L1509.1 374.4L1509.9 380L1510.6 386.7L1511.3 390.7L1512 391.8L1512.8 390.6L1513.5 387.7L1514.2 384.7L1514.9 383.8L1515.7 384.4L1516.4 382.5L1517.1 380.2L1517.8 379.5L1518.6 383.9L1519.3 388.8L1520 392L1520.7 393L1521.5 392.4L1522.2 390.4L1522.9 390.1L1523.6 390.3L1524.4 393.6L1525.1 395.4L1525.8 396.4L1526.5 397L1527.3 397.2L1528 398.2L1528.7 398.6L1529.4 399.6L1530.2 399.5L1530.9 399.3L1531.6 399.6L1532.3 400.1L1533.1 400.5L1533.8 399L1534.5 398.2L1535.3 397.8L1536 398.3L1536.7 399.1L1537.4 400.4L1538.2 400L1538.9 399.7L1539.6 398.8L1540.3 399.4L1541.1 400.1L1541.8 399.7L1542.5 399.3L1543.2 399.7L1544 400L1544.7 399.8L1545.4 398.9L1546.1 398.7L1546.9 398.6L1547.6 399L1548.3 399.1L1549 399.6L1549.8 399L1550.5 399.6L1551.2 399.7L1551.9 399.7L1552.7 398.2L1553.4 397.8L1554.1 398.4L1554.8 399.8L1555.6 399.8L1556.3 398.7L1557 398.1L1557.7 398.6L1558.5 399.7L1559.2 399.4L1559.9 399.5L1560.7 398.4L1561.4 398.2L1562.1 398L1562.8 398.5L1563.6 399.2L1564.3 399.9L1565 399.5L1565.7 400L1566.5 399.2L1567.2 399.6L1567.9 399.4L1568.6 398.7L1569.4 398.3L1570.1 397.6L1570.8 398.5L1571.5 399.5L1572.3 400.3L1573 399.9L1573.7 399.8L1574.4 399.2L1575.2 400.1L1575.9 399.7L1576.6 400.3L1577.3 399.3L1578.1 399.7L1578.8 398.8L1579.5 399.2L1580.2 398.3L1581 398.8L1581.7 398.4L1582.4 398.6L1583.1 398.8L1583.9 399.4L1584.6 399.8L1585.3 399.8L1586.1 399.8L1586.8 400.2L1587.5 400.5L1588.2 400.3L1589 400.6L1589.7 400L1590.4 400.1L1591.1 398.8L1591.9 399.9L1592.6 399.4L1593.3 399.8L1594 399.3L1594.8 399.2L1595.5 398.6L1596.2 397L1596.9 396.6L1597.7 397L1598.4 396.4L1599.1 394.5L1599.8 389.5L1600.6 383.4L1601.3 378.8L1602 381.5L1602.7 387.6L1603.5 392.2L1604.2 394.3L1604.9 394.5L1605.6 393.2L1606.4 390.3L1607.1 388.6L1607.8 390.5L1608.5 393.5L1609.3 395.5L1610 396.2L1610.7 397.1L1611.5 397.9L1612.2 398.5L1612.9 398.2L1613.6 398.4L1614.4 398.3L1615.1 398.5L1615.8 397.8L1616.5 397.6L1617.3 397.8L1618 398.6L1618.7 399.2L1619.4 399.5L1620.2 399.5L1620.9 399L1621.6 399.3L1622.3 399.5L1623.1 400.2L1623.8 399.7L1624.5 399.4L1625.2 398.9L1626 398.6L1626.7 398.5L1627.4 398.1L1628.1 397.9L1628.9 398.3L1629.6 399.1L1630.3 400.1L1631 399.8L1631.8 399.6L1632.5 399.4L1633.2 399.5L1633.9 398.7L1634.7 399.3L1635.4 400L1636.1 401.3L1636.9 400.4L1637.6 399.6L1638.3 399.2L1639 399.2L1639.8 399L1640.5 398.8L1641.2 398.9L1641.9 400L1642.7 400.5L1643.4 400.1L1644.1 399L1644.8 399.5L1645.6 399.7L1646.3 400.5L1647 399.7L1647.7 399.2L1648.5 399.7L1649.2 399.9L1649.9 400.9L1650.6 399.8L1651.4 399.5L1652.1 399.5L1652.8 399.6L1653.5 399.3L1654.3 398.3L1655 397.9L1655.7 398.4L1656.4 398.8L1657.2 398.5L1657.9 398.7L1658.6 399.1L1659.3 400L1660.1 398.5L1660.8 397.7L1661.5 397.3L1662.2 397.1L1663 396.2L1663.7 395L1664.4 394.1L1665.2 394.1L1665.9 394.4L1666.6 395.5L1667.3 396.3L1668.1 396.3L1668.8 396.4L1669.5 396L1670.2 395.8L1671 395.5L1671.7 395.5L1672.4 396L1673.1 396.5L1673.9 397.2L1674.6 397.6L1675.3 398.3L1676 398.3L1676.8 397.7L1677.5 397.2L1678.2 398.3L1678.9 399.4L1679.7 399.7L1680.4 398.9L1681.1 398.6L1681.8 398.5L1682.6 398.6L1683.3 398.9L1684 399.4L1684.7 399L1685.5 398.3L1686.2 397.2L1686.9 396.4L1687.6 395.1L1688.4 391.8L1689.1 388.5L1689.8 386L1690.6 388.9L1691.3 391.7L1692 394.3L1692.7 395.2L1693.5 396L1694.2 394.8L1694.9 393.8L1695.6 391.5L1696.4 392.4L1697.1 394.3L1697.8 396.8L1698.5 397.9L1699.3 398.1L1700 398.4L1700.7 398.8L1701.4 399.3L1702.2 399.8L1702.9 400.3L1703.6 400.1L1704.3 399.7L1705.1 398.9L1705.8 398.5L1706.5 398.5L1707.2 398.5L1708 399.7L1708.7 400.1L1709.4 401L1710.1 399.6L1710.9 399.5L1711.6 399.2L1712.3 400.1L1713 399.8L1713.8 399.5L1714.5 399.4L1715.2 399.6L1716 399.6L1716.7 400L1717.4 400L1718.1 400L1718.9 399.6L1719.6 399.7L1720.3 399.3L1721 399.5L1721.8 399.2L1722.5 399.8L1723.2 399.3L1723.9 399.4L1724.7 399L1725.4 398.8L1726.1 399.2L1726.8 399.3L1727.6 399.7L1728.3 399.7L1729 399.3L1729.7 399.2L1730.5 399L1731.2 399.9L1731.9 399.7L1732.6 399.6L1733.4 398.2L1734.1 397.1L1734.8 395.5L1735.5 394.5L1736.3 393L1737 390.8L1737.7 388L1738.4 386.2L1739.2 386.7L1739.9 388.2L1740.6 390.7L1741.4 391.7L1742.1 393L1742.8 393.6L1743.5 392.9L1744.3 392.5L1745 392.2L1745.7 394L1746.4 395.1L1747.2 395.9L1747.9 396.1L1748.6 397.5L1749.3 398L1750.1 398.6L1750.8 398.3L1751.5 398.4L1752.2 398.2L1753 397.4L1753.7 397.6L1754.4 398.2L1755.1 399.1L1755.9 398.8L1756.6 399.1L1757.3 398.5L1758 398.9L1758.8 399L1759.5 399.7L1760.2 400.1L1760.9 400.1L1761.7 399.9L1762.4 400L1763.1 399.3L1763.8 399.3L1764.6 399.1L1765.3 399.8L1766 399.6L1766.8 399.5L1767.5 398.3L1768.2 397.9L1768.9 398.2L1769.7 398.9L1770.4 399.4L1771.1 399.4L1771.8 399.4L1772.6 399.6L1773.3 399.3L1774 398.6L1774.7 398.8L1775.5 399.5L1776.2 400.7L1776.9 400.5L1777.6 400L1778.4 399.7L1779.1 400.3L1779.8 400.6L1780.5 400.3L1781.3 399.7L1782 399.2L1782.7 399.1L1783.4 398.9L1784.2 398.9L1784.9 398.2L1785.6 398.5L1786.3 398.4L1787.1 398.8L1787.8 398.6L1788.5 398.5L1789.2 399.4L1790 399L1790.7 399.3L1791.4 398.9L1792.2 399L1792.9 398.4L1793.6 398.4L1794.3 398.5L1795.1 398.5L1795.8 397.7L1796.5 397.8L1797.2 398.5L1798 398.4L1798.7 397.5L1799.4 395.6L1800.1 393.2L1800.9 388.4L1801.6 384.5L1802.3 385.2L1803 390.7L1803.8 394.4L1804.5 396.8L1805.2 397.2L1805.9 397.5L1806.7 395.9L1807.4 394.1L1808.1 392.6L1808.8 392.6L1809.6 394.5L1810.3 395.7L1811 397.3L1811.7 398.1L1812.5 399.1L1813.2 399.1L1813.9 399L1814.6 398.6L1815.4 398.9L1816.1 399.2L1816.8 400.3L1817.5 400L1818.3 400.2L1819 399.2L1819.7 399.3L1820.5 399.5L1821.2 399.8L1821.9 400.2L1822.6 399.3L1823.4 400.1L1824.1 400.7L1824.8 401L1825.5 399.5L1826.3 398.7" stroke="#ff0000" stroke-width="7.2"/>
<path d="M133.2 766.7L133.9 767.4L134.7 767.3L135.4 767.2L136.1 767.8L136.8 766.9L137.6 766.8L138.3 766.8L139 766.3L139.7 766.2L140.5 766.3L141.2 766.2L141.9 766.4L142.6 766.3L143.4 766.2L144.1 766.6L144.8 767L145.5 767L146.3 767.4L147 766.8L147.7 766.1L148.4 766.3L149.2 766L149.9 766.5L150.6 767L151.3 767.2L152.1 767.2L152.8 767L153.5 766.8L154.2 767L155 766.9L155.7 766.9L156.4 766.9L157.1 766.7L157.9 766.9L158.6 767L159.3 767.4L160.1 767.4L160.8 767.8L161.5 767.6L162.2 767.2L163 767.2L163.7 766.9L164.4 767.1L165.1 767.5L165.9 767.8L166.6 767.9L167.3 767.7L168 767.3L168.8 767.4L169.5 767.4L170.2 767.1L170.9 767L171.7 766.4L172.4 766.7L173.1 767L173.8 767.8L174.6 768.2L175.3 767.9L176 767.8L176.7 767.5L177.5 767.2L178.2 767L178.9 767.3L179.6 767L180.4 767.4L181.1 767.6L181.8 766.7L182.5 766.9L183.3 766.1L184 766.5L184.7 767.8L185.5 767.5L186.2 767.7L186.9 766.9L187.6 766.6L188.4 766.7L189.1 766.9L189.8 767.2L190.5 767.5L191.3 767.7L192 768L192.7 768.3L193.4 768L194.2 768.2L194.9 767.9L195.6 767.6L196.3 767.1L197.1 766.7L197.8 767.2L198.5 767.1L199.2 767.3L200 767.3L200.7 766.8L201.4 767.2L202.1 767.1L202.9 767.1L203.6 767.4L204.3 767.4L205 767.7L205.8 767.9L206.5 767.3L207.2 767.3L207.9 767.3L208.7 767.5L209.4 767.7L210.1 768.3L210.8 767.8L211.6 767.7L212.3 768L213 767.2L213.8 767.7L214.5 767.5L215.2 766.8L215.9 766.6L216.7 766.6L217.4 767.2L218.1 767.5L218.8 767.8L219.6 768L220.3 767.6L221 767.9L221.7 767.5L222.5 766.7L223.2 766.3L223.9 766.3L224.6 766.1L225.4 766.1L226.1 766.4L226.8 766.4L227.5 766.8L228.3 767.1L229 766.8L229.7 767.2L230.4 767.8L231.2 768.5L231.9 768.9L232.6 768.8L233.3 768.8L234.1 768.7L234.8 768.9L235.5 769L236.2 768.4L237 767.5L237.7 767.4L238.4 767L239.2 767.2L239.9 767.3L240.6 766.7L241.3 767.1L242.1 767.2L242.8 767.2L243.5 767.6L244.2 767.3L245 767.3L245.7 768.1L246.4 768L247.1 767.5L247.9 767.3L248.6 766.5L249.3 766.6L250 766.9L250.8 766.9L251.5 766.8L252.2 766.7L252.9 766.4L253.7 766.3L254.4 766.2L255.1 765.6L255.8 765.7L256.6 765.2L257.3 765.3L257.5 765.4L257.8 765.4L258 765.4L258.3 765.3L258.5 765.1L258.7 764.9L259 764.8L259.2 764.7L259.5 764.6L259.7 764.2L260 763.9L260.2 763.5L260.4 762.9L260.7 762.4L260.9 761.8L261.2 761.5L261.4 761.1L261.6 760.7L261.9 760.1L262.1 759.5L262.4 758.7L262.6 758.1L262.9 757.4L263.1 756.6L263.3 755.7L263.6 754.7L263.8 753.4L264.1 751.7L264.3 749.6L264.6 747.2L264.8 744.4L265 740.9L265.3 736.6L265.5 730.9L265.8 723.8L266 715L266.2 704.4L266.5 691.5L266.7 676.2L267 658.6L267.2 639L267.5 618.6L267.7 599L267.9 583.1L268.2 573.3L268.4 570.7L268.7 574.3L268.9 582L269.1 591.8L269.4 602.9L269.6 615.2L269.9 629.1L270.1 644.4L270.4 660.3L270.6 675.8L270.8 690.1L271.1 702.6L271.3 713.3L271.6 722.3L271.8 729.7L272.1 735.7L272.3 740.6L272.5 744.5L272.8 747.5L273 750L273.3 752L273.5 753.8L273.7 755.2L274 756.5L274.2 757.5L274.5 758.4L274.7 759.2L275 759.9L275.2 760.6L275.4 761.1L275.7 761.9L275.9 762.5L276.2 763.1L276.4 763.5L276.6 763.9L276.9 764.2L277.1 764.6L277.4 764.9L277.6 765.2L277.9 765.4L278.1 765.5L278.3 765.7L278.6 765.7L278.8 765.8L279.1 765.8L279.3 765.8L279.5 765.7L279.8 765.7L280 765.8L280.3 765.9L280.5 766L280.8 766.2L281 766.4L281.2 766.6L281.5 766.8L281.7 767L282 767.2L282.2 767.5L282.5 767.7L282.7 768L282.9 768L283.2 768L283.4 768L283.7 768.3L283.9 768.5L284.1 768.8L284.4 768.6L284.6 768.5L284.9 768.4L285.1 768.3L285.4 768.2L285.6 768.1L285.8 768.2L286.1 768.2L286.3 768.2L287 767.9L287.8 768.2L288.5 768.5L289.2 768.5L290 768.8L290.7 768.8L291.4 768.7L292.1 769L292.9 768.5L293.6 768.6L294.3 769.3L295 769.3L295.8 769.5L296.5 769.6L297.2 769.2L297.9 769.6L298.7 769.8L299.4 769.8L300.1 769.7L300.8 769.5L301.6 769.6L302.3 769.7L303 769.9L303.7 769.5L304.5 769.6L305.2 769.3L305.9 769L306.6 769.4L307.4 769.2L308.1 769.6L308.8 769.8L309.5 769.8L310.3 769.7L311 769.2L311.7 769.4L312.4 769.3L313.2 769.6L313.9 770.1L314.6 770.4L315.4 770.8L316.1 770.9L316.8 771.3L317.5 771.3L318.3 771.1L319 771.2L319.7 770.7L320.4 770.5L321.2 770.8L321.9 770.4L322.6 770.9L323.3 770.7L324.1 770.4L324.8 770.6L325.5 770.6L326.2 771.2L327 771.3L327.7 771.3L328.4 771.3L329.1 771.1L329.9 770.8L330.6 770.6L331.3 770.8L332 770.4L332.8 771L333.5 771L334.2 770.9L334.9 771.1L335.7 770.9L336.4 770.6L337.1 770.3L337.8 770.8L338.6 770.4L339.3 771.3L340 771.1L340.8 770.9L341.5 770.6L342.2 770.6L342.9 770.5L343.7 770.4L344.4 770.8L345.1 770.3L345.8 770.9L346.6 770.9L347.3 771.5L348 771.7L348.7 771.5L349.5 771.6L350.2 771.5L350.9 772.2L351.6 772.3L352.4 772.6L353.1 772.4L353.8 772L354.5 772.2L355.3 771.6L356 771.4L356.7 771.7L357.4 771.5L358.2 772L358.9 772.5L359.6 772.3L360.3 772.4L361.1 772.3L361.8 772.7L362.5 772.5L363.2 772.1L364 772L364.7 771.5L365.4 771.4L366.1 771.6L366.9 771.8L367.6 771L368.3 771L369.1 771.3L369.8 771.4L370.5 772L371.2 772.1L372 772.2L372.7 772L373.4 772L374.1 772.7L374.9 772.3L375.6 772.6L376.3 772.7L377 772.3L377.8 772.2L378.5 771.8L379.2 772.2L379.9 771.9L380.7 772.2L381.4 772.1L382.1 771.8L382.8 772.1L383.6 771.6L384.3 772.2L385 772.3L385.7 772.6L386.5 772.8L387.2 772.8L387.9 773.4L388.6 773.2L389.4 773.3L390.1 773.2L390.8 772.6L391.5 772.5L392.3 772.7L393 772.4L393.7 772.5L394.5 772.5L395.2 772.3L395.9 772.7L396.6 772.6L397.4 773.3L398.1 773.5L398.8 773.1L399.5 773L400.3 772.5L401 772.3L401.7 772.2L402.4 772.7L403.2 772.3L403.9 772.9L404.6 773.2L405.3 772.5L406.1 773.1L406.8 772.6L407.5 772.2L408.2 772.4L409 772.1L409.7 772.1L410.4 772.2L411.1 772.3L411.9 771.6L412.6 771.2L413.3 770.6L414 769.6L414.8 769.6L415.5 770.1L416.2 770L416.9 771.1L417.7 771.6L418.4 771.4L419.1 772.2L419.9 772.5L420.6 772.5L421.3 773.1L422 773.5L422.8 773L423.5 773.4L424.2 773.4L424.9 773L425.7 773.4L426.4 773.2L427.1 773L427.8 772.8L428.6 772.8L429.3 772.8L430 772.8L430.7 772.9L431.5 772.5L432.2 772.4L432.9 772.7L433.6 772.8L434.4 773.6L435.1 773.9L435.8 773.7L436.5 773.7L437.3 773.8L438 773.4L438.7 773.5L439.4 774.2L440.2 773.7L440.9 773.9L441.6 773.7L442.3 773.6L443.1 774L443.8 774.3L444.5 774L445.3 773.7L446 773.4L446.7 772.9L447.4 773.1L448.2 773.9L448.9 773.6L449.6 774.2L450.3 774L451.1 773.4L451.8 773.6L452.5 773L453.2 773.2L454 773.6L454.7 773.8L455.4 774.3L456.1 774.2L456.9 773.8L457.6 773.7L458.3 773.7L459 774.2L459.8 774L460.5 774.4L461.2 774.1L461.9 773.8L462.7 773.7L463.4 773.3L464.1 773.3L464.8 773L465.6 773.2L466.3 773.3L467 773.2L467.7 773.7L468.5 773.5L469.2 773.7L469.9 773.7L470.7 773.6L471.4 773.4L472.1 773.2L472.8 773.2L473.6 773.3L474.3 773.4L475 773.6L475.7 773.4L476.5 773.4L477.2 773.8L477.9 773.2L478.6 773.9L479.4 773.2L480.1 772.9L480.8 773L481.5 772.5L482.3 772.7L483 772.8L483.7 772.7L484.4 772.4L485.2 771.8L485.9 771.3L486.6 771.1L487.3 770.4L488.1 770.2L488.8 769.2L489 768.9L489.3 768.5L489.5 768.1L489.8 767.8L490 767.5L490.2 767.2L490.5 767L490.7 766.7L491 766.4L491.2 766.1L491.5 765.7L491.7 765.2L491.9 764.7L492.2 764.2L492.4 763.6L492.7 763.2L492.9 762.6L493.1 762L493.4 761.1L493.6 760L493.9 758.8L494.1 757.8L494.4 756.6L494.6 755.3L494.8 753.6L495.1 751.7L495.3 749.4L495.6 746.6L495.8 743.3L496.1 739.2L496.3 734.4L496.5 728.4L496.8 720.8L497 711.3L497.3 699.3L497.5 684.5L497.7 666.2L498 644.2L498.2 618.1L498.5 588.1L498.7 555.1L499 521.1L499.2 489.5L499.4 464.9L499.7 451.4L499.9 451L500.2 461.4L500.4 478.2L500.6 496.3L500.9 513L501.1 526.9L501.4 538.9L501.6 550.7L501.9 564.6L502.1 581.7L502.3 601.6L502.6 622.8L502.8 643.6L503.1 662.7L503.3 679.6L503.5 694.3L503.8 706.7L504 717L504.3 725.3L504.5 732L504.8 737.5L505 742L505.2 745.7L505.5 748.8L505.7 751.2L506 753.2L506.2 754.9L506.5 756.5L506.7 757.8L506.9 759L507.2 760L507.4 761L507.7 761.8L507.9 762.6L508.1 763.4L508.4 764.1L508.6 764.8L508.9 765.3L509.1 765.9L509.4 766.3L509.6 766.8L509.8 767.1L510.1 767.7L510.3 768.2L510.6 768.7L510.8 768.8L511 768.9L511.3 769L511.5 769.4L511.8 769.7L512 769.9L512.3 770.1L512.5 770.2L512.7 770.3L513 770.5L513.2 770.6L513.5 770.7L513.7 771L514 771.2L514.2 771.5L514.4 771.6L514.7 771.6L514.9 771.7L515.2 771.8L515.4 771.9L515.6 771.9L515.9 772.2L516.1 772.4L516.4 772.6L516.6 772.6L516.9 772.5L517.1 772.5L517.3 772.6L517.6 772.6L517.8 772.7L518.5 773.2L519.3 773.4L520 774L520.7 774.5L521.4 774.4L522.2 774.1L522.9 774.3L523.6 774.3L524.4 774.3L525.1 774.7L525.8 774.3L526.5 773.7L527.3 774L528 774L528.7 774.1L529.4 775L530.2 775.1L530.9 774.9L531.6 774.6L532.3 773.8L533.1 773.5L533.8 773.5L534.5 773.9L535.2 774.4L536 774.2L536.7 774.2L537.4 773.8L538.1 774.1L538.9 774.1L539.6 774.4L540.3 774.6L541 774.3L541.8 774.5L542.5 774.3L543.2 774.2L543.9 774.8L544.7 774.5L545.4 774.7L546.1 774.8L546.8 774L547.6 774.3L548.3 774.2L549 774.2L549.8 773.7L550.5 773.3L551.2 773.2L551.9 773L552.4 773.2L552.7 773.3L552.9 773.3L553.1 773.2L553.4 773.2L553.6 773L553.9 772.9L554.1 772.7L554.3 772.6L554.6 772.4L554.8 772.3L555.1 772.2L555.3 772.1L555.6 772L555.8 771.7L556 771.4L556.3 771.1L556.5 770.7L556.8 770.2L557 769.7L557.3 769.3L557.5 768.8L557.7 768.2L558 767.5L558.2 766.6L558.5 765.7L558.7 764.6L558.9 763.3L559.2 761.9L559.4 760.6L559.7 759L559.9 757L560.2 754.2L560.4 750.8L560.6 746.5L560.9 741.4L561.1 735L561.4 727.1L561.6 717.5L561.8 706.2L562.1 693.3L562.3 679L562.6 664.3L562.8 650.7L563.1 640.4L563.3 635L563.5 635.4L563.8 640.5L564 648.3L564.3 656.8L564.5 664.6L564.7 670.8L565 675.7L565.2 679.6L565.5 683.9L565.7 689.3L566 696.2L566.2 704.5L566.4 713.1L566.7 721.8L566.9 729.7L567.2 736.7L567.4 742.5L567.7 747.5L567.9 751.6L568.1 755L568.4 757.8L568.6 760.1L568.9 762.1L569.1 763.8L569.3 765.2L569.6 766L569.8 766.6L570.1 767.1L570.3 767.7L570.6 768.1L570.8 768.5L571 768.9L571.3 769.2L571.5 769.5L571.8 769.7L572 769.8L572.2 769.9L572.5 770.2L572.7 770.5L573 770.8L573.2 771.1L573.5 771.5L573.7 771.8L573.9 772L574.2 772.3L574.4 772.5L574.7 772.5L574.9 772.5L575.2 772.5L575.4 772.7L575.6 772.9L575.9 773.1L576.1 773.1L576.4 773.1L576.6 773.1L576.8 773.2L577.1 773.3L577.3 773.5L577.6 773.7L577.8 773.9L578.1 774L578.3 774.3L578.5 774.5L578.8 774.7L579 774.9L579.3 775.1L579.5 775.3L579.7 775.3L580 775.3L580.2 775.2L580.5 775.3L580.7 775.3L581 775.4L581.2 775.2L581.4 775.1L581.7 775L582.4 774.7L583.1 774.5L583.9 774.7L584.6 775.1L585.3 775.2L586 775.5L586.8 775.2L587.5 775.1L588.2 775.6L588.9 775.5L589.7 775.5L590.4 775.2L591.1 775L591.8 775.4L592.6 775.8L593.3 775.9L594 775.6L594.7 775.6L595.5 775.5L596.2 775.5L596.9 775.8L597.6 775.7L598.4 775.8L599.1 776L599.8 776L600.6 776L601.3 775.6L602 775.8L602.7 775.7L603.5 775.9L604.2 775.9L604.9 775.6L605.6 775.6L606.4 775L607.1 775.2L607.8 775.3L608.5 775.2L609.3 775.5L610 775L610.7 775.2L611.4 775.3L612.2 775.6L612.9 776.5L613.6 776.5L614.3 776.8L615.1 776L615.8 775.8L616.5 775.9L617.2 775.9L618 776.6L618.7 776.4L619.4 776L620.1 775.8L620.9 775.9L621.6 776.1L622.3 776.2L623 775.9L623.8 776.2L624.5 775.9L625.2 775.3L626 775.9L626.7 775.7L627.4 776L628.1 776.8L628.9 776.6L629.6 776.2L630.3 776.1L631 775.6L631.8 775.4L632.5 775.4L633.2 775.4L633.9 775.9L634.7 775.9L635.4 776.2L636.1 775.7L636.8 775.2L637.6 775.5L638.3 775.6L639 776.3L639.7 776.8L640.5 776.3L641.2 775.9L641.9 775.1L642.6 774.8L643.4 775.2L644.1 775.2L644.8 775.6L645.5 775.7L646.3 775.8L647 775.8L647.7 775.9L648.4 775.7L649.2 775.6L649.9 775.5L650.6 775.7L651.3 775.5L652.1 775L652.8 774.6L653.5 774.3L654.3 773.8L655 773.7L655.7 773.1L656.4 772.8L657.2 772.6L657.9 772.3L658.6 772.5L659.3 772.5L660.1 772.7L660.8 773.3L661.5 773.7L662.2 774L663 774.4L663.7 774.3L664.4 774.5L665.1 774.7L665.9 774.7L666.6 775.4L667.3 775.4L668 775.2L668.8 775.3L669.5 775L670.2 775L670.9 775.1L671.7 775.2L672.4 774.9L673.1 774.7L673.8 775L674.6 774.8L675.3 775.2L676 775.4L676.7 775.1L677.5 774.6L678.2 774.6L678.9 774.6L679.7 774.3L680.4 774.7L681.1 774.4L681.8 773.6L682.6 773.6L683.3 773.6L684 773.3L684.7 773.4L685.5 773.4L686.2 772.5L686.9 771.6L687.4 771.4L687.6 771.2L687.9 770.9L688.1 770.5L688.4 770L688.6 769.8L688.8 769.5L689.1 769.2L689.3 769.1L689.6 768.9L689.8 768.7L690.1 768.2L690.3 767.6L690.5 767L690.8 766.5L691 765.9L691.3 765.2L691.5 764.4L691.7 763.5L692 762.5L692.2 761.4L692.5 760.2L692.7 758.9L693 757.5L693.2 756L693.4 754.3L693.7 752.1L693.9 749.5L694.2 746.5L694.4 743L694.6 738.7L694.9 733.5L695.1 727L695.4 719L695.6 708.9L695.9 696L696.1 680L696.3 660.5L696.6 637.2L696.8 609.7L697.1 578.2L697.3 543.7L697.6 508.4L697.8 476.1L698 451.7L698.3 439.9L698.5 442.6L698.8 457.7L699 479.8L699.2 503.7L699.5 525.2L699.7 542.3L700 554.3L700.2 561.7L700.5 566.1L700.7 570.3L700.9 576.7L701.2 587.5L701.4 602.9L701.7 621.5L701.9 641L702.1 659.9L702.4 677.1L702.6 692.2L702.9 705L703.1 715.6L703.4 724.3L703.6 731.4L703.8 737.3L704.1 742.1L704.3 746L704.6 749.1L704.8 751.8L705.1 754L705.3 755.9L705.5 757.5L705.8 758.9L706 760.3L706.3 761.7L706.5 762.9L706.7 763.9L707 764.8L707.2 765.6L707.5 766.5L707.7 767.4L708 768.2L708.2 768.7L708.4 769.2L708.7 769.7L708.9 770L709.2 770.3L709.4 770.5L709.6 771L709.9 771.5L710.1 771.9L710.4 771.9L710.6 771.9L710.9 771.9L711.1 772.3L711.3 772.7L711.6 773.1L711.8 773L712.1 773L712.3 773L712.6 772.9L712.8 772.8L713 772.7L713.3 773L713.5 773.3L713.8 773.6L714 773.6L714.2 773.7L714.5 773.7L714.7 774.1L715 774.5L715.2 774.8L715.5 774.9L715.7 775L715.9 775.1L716.2 775L716.4 775L716.7 774.9L717.4 774.9L718.1 775.1L718.8 775.6L719.6 775.6L720.3 775.7L721 776L721.7 776.6L722.5 777L723.2 777.1L723.9 776.7L724.6 775.8L725.4 775.2L726.1 775.2L726.8 775.9L727.5 776.2L728.3 776.2L729 776.2L729.7 775.8L730.5 775.7L731.2 776.7L731.9 777L732.6 777.4L733.4 777.3L734.1 777L734.8 776.6L735.5 776.5L736.3 776.5L737 776.7L737.7 777L738.4 776.8L739.2 776.8L739.9 776.7L740.6 776.2L741.3 775.9L742.1 776.1L742.8 776.4L743.5 776.8L744.2 776.9L745 777.2L745.7 777.3L746.4 777.3L747.1 777.2L747.9 776.8L748.6 776.3L749.3 776.7L750 776.9L750.8 777.1L751.5 776.9L752.2 776.2L752.9 776.5L753.7 776.6L754.4 776.9L755.1 776.8L755.9 776.6L756.6 776.5L757.3 776.7L758 777.1L758.8 776.7L759.5 776.5L760.2 776L760.9 775.3L761.7 774.7L762.4 774.3L763.1 774.1L763.8 773.4L764.6 773.4L765.3 772.8L766 772.1L766.7 772.3L767.5 772.2L768.2 773L768.9 773.9L769.6 773.9L770.4 774.7L771.1 775.1L771.8 775.7L772.5 776.4L773.3 776.5L774 776.9L774.7 776.9L775.4 777.5L776.2 777.4L776.9 777.1L777.6 777.1L778.3 776.6L779.1 776.9L779.8 777.3L780.5 777.2L781.3 777.3L782 777.1L782.7 776.9L783.4 776.9L784.2 777.2L784.9 777.3L785.6 777L786.3 776.6L787.1 776.3L787.8 776.2L788.5 776.4L789.2 776.6L790 776.8L790.7 776.9L791.4 777.1L792.1 777.3L792.9 777.5L793.6 777.4L794.3 777.2L795 776.9L795.8 776.9L796.5 777.2L797.2 777.6L797.9 777.9L798.7 777.9L799.4 777.9L800.1 777.6L800.8 777.4L801.6 777.6L802.3 777.4L803 777.1L803.7 777.2L804.5 776.9L805.2 777L805.9 777.2L806.6 777.1L807.4 777.2L808.1 777.2L808.8 777.5L809.6 777.6L810.3 777.7L811 777.9L811.7 777.6L812.5 777.5L813.2 777.8L813.9 777.7L814.6 778.2L815.4 778L816.1 778L816.8 777.7L817.5 777.7L818.3 778L819 777.9L819.7 777.9L820.4 777.6L821.2 777.2L821.9 777.1L822.6 777.4L823.3 777.6L824.1 778.2L824.8 778.2L825.5 778.1L826.2 778.2L827 777.8L827.7 777.9L828.4 777.9L829.1 777.9L829.9 778L830.6 777.7L831.3 777.4L832 777.3L832.8 777.5L833.5 777.3L834.2 777.5L835 778.3L835.7 778.2L836.4 778.5L837.1 778.6L837.9 777.8L838.6 777.8L839.3 777.9L840 777.6L840.8 777.9L841.5 777.9L842.2 778.1L842.9 778.4L843.7 778.3L844.4 778.3L845.1 778.7L845.8 778.9L846.6 779L847.3 779L848 778L848.7 777.8L849.5 777.6L850.2 777.6L850.9 777.8L851.6 777.7L852.4 777.4L853.1 777.3L853.8 777.5L854.5 777.8L855.3 778.2L856 778.2L856.7 778.1L857.4 778L858.2 778L858.9 778L859.6 778.1L860.4 778.1L861.1 778L861.8 778.2L862.5 778.3L863.3 778L864 778L864.7 777.8L865.4 777.7L866.2 777.7L866.9 777.3L867.6 777.1L868.3 777L869.1 777.2L869.8 777.7L870.5 778L871.2 778.1L872 778.5L872.7 778L873.4 777.8L874.1 777.2L874.9 777.3L875.6 777.7L876.3 777.8L877 778.1L877.8 777.9L878.5 777.8L879.2 777.5L879.9 777.8L880.7 777.9L881.4 777.5L882.1 777.7L882.8 777.9L883.6 777.9L884.3 778.3L885 778.4L885.8 778L886.5 777.9L887.2 777.5L887.9 777.3L888.7 777.6L889.4 777.9L890.1 778.1L890.8 778.4L891.6 778.1L892.3 777.8L893 777.7L893.7 776.9L894.5 776.9L895.2 776.8L895.9 776.8L896.6 777.3L897.4 777.6L898.1 777.6L898.8 777.2L899.5 777.1L900.3 777.4L901 777.5L901.7 777.5L902.4 777.5L903.2 777.2L903.9 777.3L904.6 777.2L905.3 777.2L906.1 777.1L906.8 776.7L907.5 776.6L908.2 776.3L909 776L909.7 775.8L909.9 775.7L910.2 775.5L910.4 775.3L910.7 775.2L910.9 775.1L911.2 775L911.4 775L911.6 774.9L911.9 774.8L912.1 774.6L912.4 774.4L912.6 774.2L912.8 773.9L913.1 773.6L913.3 773.3L913.6 773.1L913.8 772.9L914.1 772.6L914.3 772.1L914.5 771.5L914.8 770.9L915 770.4L915.3 769.8L915.5 769.1L915.7 768.4L916 767.7L916.2 766.8L916.5 765.4L916.7 763.8L917 761.9L917.2 759.6L917.4 756.8L917.7 753.3L917.9 749L918.2 743.5L918.4 736.7L918.6 728.4L918.9 718.3L919.1 706.5L919.4 693.1L919.6 678.4L919.9 663.4L920.1 649.8L920.3 639.9L920.6 635.6L920.8 638L921.1 646L921.3 657.3L921.6 669.4L921.8 680.8L922 690.3L922.3 697.5L922.5 702.2L922.8 704.4L923 704.6L923.2 703.5L923.5 701.9L923.7 700.8L924 701.7L924.2 705.1L924.5 710.8L924.7 718L924.9 725.6L925.2 732.9L925.4 739.6L925.7 745.5L925.9 750.4L926.1 754.5L926.4 757.8L926.6 760.7L926.9 763.1L927.1 765L927.4 766.6L927.6 767.9L927.8 769.1L928.1 769.9L928.3 770.7L928.6 771.3L928.8 771.8L929.1 772.3L929.3 772.7L929.5 773L929.8 773.3L930 773.6L930.3 773.9L930.5 774.2L930.7 774.5L931 774.7L931.2 774.9L931.5 775.1L931.7 775.4L932 775.7L932.2 775.9L932.4 776.1L932.7 776.2L932.9 776.3L933.2 776.3L933.4 776.2L933.6 776.2L933.9 776.4L934.1 776.5L934.4 776.6L934.6 776.5L934.9 776.4L935.1 776.4L935.3 776.4L935.6 776.4L935.8 776.4L936.1 776.5L936.3 776.7L936.5 776.8L936.8 776.8L937 776.7L937.3 776.7L937.5 776.8L937.8 776.8L938 776.9L938.2 776.9L938.5 777L938.7 777L939.5 776.7L940.2 776.9L940.9 776.8L941.6 777L942.4 777.4L943.1 777.3L943.8 777.9L944.5 777.6L945.3 777.2L946 777.1L946.7 777L947.4 776.8L948.2 777.1L948.9 777.5L949.6 777.6L950.3 778L951.1 778.3L951.8 778.2L952.5 778.2L953.2 778.1L954 777.9L954.7 778L955.4 777.8L956.1 778.4L956.9 778.4L957.6 778.5L958.3 778.5L959 778.1L959.8 777.7L960.5 777.9L961.2 777.6L961.9 777.2L962.7 777.6L963.4 777.3L964.1 777.6L964.9 778.1L965.6 778.1L966.3 778.2L967 778.2L967.8 778.3L968.5 778.4L969.2 778.9L969.9 779.1L970.7 778.5L971.4 778.7L972.1 778.1L972.8 778L973.6 778.3L974.3 778.1L975 778.1L975.7 777.9L976.5 777.7L977.2 777.9L977.9 778.1L978.6 778.3L979.4 778.3L980.1 777.9L980.8 777.9L981.5 778.1L982.3 778L983 778.1L983.7 777.7L984.4 777.8L985.2 777.8L985.9 778.2L986.6 778.5L987.3 778.2L988.1 778.4L988.8 778.5L989.5 778.8L990.3 778.9L991 778.8L991.7 778.8L992.4 778.6L993.2 778.5L993.9 778.7L994.6 778.3L995.3 778.3L996.1 778.2L996.8 778.1L997.5 778L998.2 777.9L999 778L999.7 777.7L1000.4 778L1001.1 778.1L1001.9 778.2L1002.6 778.7L1003.3 778.5L1004 778.6L1004.8 778.5L1005.5 778.2L1006.2 778.2L1006.9 778.1L1007.7 778.1L1008.4 778L1009.1 778.2L1009.8 778L1010.6 777.7L1011.3 777.5L1012 777.6L1012.7 777.7L1013.5 777.8L1014.2 778L1014.9 777.9L1015.7 777.9L1016.4 777.5L1017.1 777.6L1017.8 777.3L1018.6 777L1019.3 777.2L1020 777L1020.7 777.2L1021.5 777L1022.2 777.1L1022.9 777.2L1023.6 777.1L1024.4 777.2L1025.1 776.6L1025.8 775.9L1026.5 775.3L1027.3 774.9L1028 774.2L1028.7 774.4L1029.4 774.2L1029.7 774L1029.9 773.7L1030.2 773.4L1030.4 773.3L1030.6 773.2L1030.9 773L1031.1 772.6L1031.4 772.1L1031.6 771.6L1031.9 771.2L1032.1 770.8L1032.3 770.3L1032.6 770L1032.8 769.5L1033.1 769.1L1033.3 768.6L1033.6 768.1L1033.8 767.5L1034 766.7L1034.3 765.8L1034.5 764.9L1034.8 763.9L1035 762.7L1035.2 761.4L1035.5 759.8L1035.7 758L1036 756L1036.2 753.4L1036.5 750.5L1036.7 746.9L1036.9 742.6L1037.2 737.3L1037.4 730.7L1037.7 722.2L1037.9 711.5L1038.1 698.2L1038.4 682L1038.6 662.4L1038.9 639.3L1039.1 612.9L1039.4 584.2L1039.6 554.9L1039.8 528.3L1040.1 509L1040.3 501.1L1040.6 506.1L1040.8 522.2L1041.1 545.3L1041.3 570.5L1041.5 594.6L1041.8 615.3L1042 631.6L1042.3 643L1042.5 649.6L1042.7 651.6L1043 649.7L1043.2 645L1043.5 638.9L1043.7 633.6L1044 631.4L1044.2 634.3L1044.4 642.5L1044.7 654.7L1044.9 669L1045.2 683.7L1045.4 697.6L1045.6 709.9L1045.9 720.6L1046.1 729.6L1046.4 737L1046.6 743.2L1046.9 748.1L1047.1 752L1047.3 755.1L1047.6 757.6L1047.8 759.6L1048.1 761.2L1048.3 762.5L1048.5 763.7L1048.8 764.8L1049 765.7L1049.3 766.6L1049.5 767.5L1049.8 768.2L1050 768.8L1050.2 769.4L1050.5 769.9L1050.7 770.5L1051 771.1L1051.2 771.6L1051.5 772.2L1051.7 772.8L1051.9 773.3L1052.2 773.6L1052.4 773.9L1052.7 774.2L1052.9 774.4L1053.1 774.7L1053.4 774.9L1053.6 775L1053.9 775.2L1054.1 775.3L1054.4 775.3L1054.6 775.3L1054.8 775.3L1055.1 775.5L1055.3 775.7L1055.6 775.9L1055.8 776L1056 776.1L1056.3 776.2L1056.5 776.4L1056.8 776.5L1057 776.6L1057.3 776.6L1057.5 776.6L1057.7 776.6L1058 776.6L1058.2 776.5L1058.5 776.4L1059.2 776.5L1059.9 776.7L1060.6 776.9L1061.4 777.4L1062.1 777.4L1062.8 777.3L1063.5 777.6L1064.3 777.7L1065 777.8L1065.7 777.7L1066.5 777.7L1067.2 777.6L1067.9 777.9L1068.6 777.9L1069.4 777.9L1070.1 777.6L1070.8 777.8L1071.5 778.1L1072.3 778.4L1073 778.3L1073.7 778L1074.4 778L1075.2 778L1075.9 778.1L1076.6 778.3L1077.3 778.5L1078.1 778.5L1078.8 778.6L1079.5 778.7L1080.2 778.6L1081 778.6L1081.7 778.8L1082.4 778.4L1083.1 778.4L1083.9 778.3L1084.6 778.5L1085.3 778.6L1086 778.4L1086.8 778.3L1087.5 778.2L1088.2 777.9L1088.9 777.8L1089.7 777.7L1090.4 777.2L1091.1 776.5L1091.8 775.6L1092.6 774.1L1093.3 772.4L1094 770.9L1094.8 770.6L1095.5 771L1096.2 772.1L1096.9 773L1097.7 772.9L1098.4 773.4L1099.1 774L1099.8 774.9L1100.6 776L1101.3 776.9L1102 777.7L1102.7 777.9L1103.5 778.2L1104.2 778.3L1104.9 777.9L1105.6 778L1106.4 777.8L1107.1 777.6L1107.8 777.8L1108.5 778L1109.3 778.2L1110 778.2L1110.7 778.5L1111.4 778.3L1112.2 778.2L1112.9 778.5L1113.6 778.5L1114.3 778.4L1115.1 778.4L1115.8 778.1L1116.5 777.7L1117.2 778L1118 778.1L1118.7 778.3L1119.4 778.6L1120.2 778.3L1120.9 778.4L1121.6 778.4L1122.3 778.3L1123.1 777.8L1123.8 777.8L1124.5 777L1125.2 776.5L1126 776.5L1126.7 775.5L1127.4 775.3L1128.1 774.6L1128.9 772.4L1129.6 769.2L1130.3 764.3L1131 757.2L1131.8 750.7L1132.5 749.1L1133.2 752.5L1133.9 757.5L1134.7 760.9L1135.4 761.6L1136.1 761.6L1136.8 763.4L1137.6 766.6L1138.3 770.3L1139 772.9L1139.7 774.7L1140.5 776L1141.2 776.3L1141.9 776.9L1142.6 777.2L1143.4 777.3L1144.1 777.5L1144.8 777.9L1145.6 777.8L1146.3 778L1147 778.3L1147.7 778.2L1148.5 778.5L1149.2 778.6L1149.9 778.3L1150.6 778.3L1151.4 778.2L1152.1 778.1L1152.8 778.1L1153.5 778.1L1154.3 778.3L1155 778.3L1155.7 778.5L1156.4 778.9L1157.2 778.5L1157.9 778.4L1158.6 778.4L1159.3 778.4L1160.1 778.5L1160.8 778.6L1161.5 778.7L1162.2 778.3L1163 778.4L1163.7 778.4L1164.4 778.3L1165.1 778.5L1165.9 778.8L1166.6 778.7L1167.3 778.9L1168 778.9L1168.8 778.7L1169.5 778.7L1170.2 778.9L1171 778.6L1171.7 778.6L1172.4 778.9L1173.1 778.2L1173.9 778.3L1174.6 778L1175.3 777.8L1176 778.3L1176.8 778.3L1177.5 778.6L1178.2 778.8L1178.9 778.5L1179.7 778.6L1180.4 778.4L1181.1 778.4L1181.8 778.5L1182.6 778.8L1183.3 779.1L1184 778.8L1184.7 778.9L1185.5 778.7L1186.2 778.5L1186.9 778.8L1187.6 778.7L1188.4 778.9L1189.1 778.9L1189.8 778.9L1190.5 778.9L1191.3 778.9L1192 778.6L1192.7 778.7L1193.4 778.9L1194.2 778.5L1194.9 778.8L1195.6 779.1L1196.4 779L1197.1 779L1197.8 779L1198.5 778.7L1199.3 778.9L1200 779L1200.7 779.1L1201.4 779.1L1202.2 779L1202.9 779.1L1203.6 778.8L1204.3 778.8L1205.1 778.8L1205.8 778.7L1206.5 778.5L1207.2 778.3L1208 778.1L1208.7 778.2L1209.4 778.5L1210.1 778.8L1210.9 778.7L1211.6 778.4L1212.3 778.5L1213 778.2L1213.8 778.5L1214.5 778.9L1215.2 778.8L1215.9 778.8L1216.7 778.6L1217.4 778.6L1218.1 778.7L1218.8 778.7L1219.6 778.9L1220.3 778.8L1221 778.7L1221.8 778.6L1222.5 778L1223.2 777.9L1223.9 777.9L1224.7 778.1L1225.4 778.3L1226.1 778.3L1226.8 778.3L1227.6 778.1L1228.3 778.1L1229 778.1L1229.7 778.3L1230.5 778.4L1231.2 778.5L1231.9 778.6L1232.6 778.2L1233.4 777.9L1234.1 777.6L1234.8 777.5L1235.5 777.6L1236.3 777.7L1237 778L1237.7 777.9L1238.4 778L1239.2 778.1L1239.9 777.4L1240.6 777.5L1241.3 777.4L1242.1 777.9L1242.8 778.3L1243.5 778.2L1244.2 778.3L1245 777.4L1245.7 777L1246.4 776.5L1247.1 776.1L1247.6 776.3L1247.9 776.3L1248.1 776.4L1248.4 776.4L1248.6 776.4L1248.8 776.4L1249.1 776.3L1249.3 776.2L1249.6 776L1249.8 775.9L1250.1 775.7L1250.3 775.6L1250.5 775.4L1250.8 775.3L1251 775.1L1251.3 774.8L1251.5 774.6L1251.7 774.4L1252 774.2L1252.2 774L1252.5 773.8L1252.7 773.6L1253 773.3L1253.2 772.8L1253.4 772.3L1253.7 771.7L1253.9 771L1254.2 770.3L1254.4 769.4L1254.6 768.3L1254.9 767.1L1255.1 765.5L1255.4 763.6L1255.6 761.1L1255.9 758.1L1256.1 754.2L1256.3 749.5L1256.6 743.6L1256.8 736.5L1257.1 728.1L1257.3 718.6L1257.6 708.2L1257.8 697.7L1258 688.2L1258.3 681.2L1258.5 678.4L1258.8 680.3L1259 686.6L1259.2 695.4L1259.5 705.2L1259.7 714.7L1260 723.2L1260.2 730.2L1260.5 735.7L1260.7 739.5L1260.9 741.9L1261.2 742.9L1261.4 742.5L1261.7 741.1L1261.9 738.5L1262.1 735.4L1262.4 732L1262.6 729.3L1262.9 727.9L1263.1 728.4L1263.4 730.9L1263.6 735.1L1263.8 740L1264.1 745.2L1264.3 750.1L1264.6 754.6L1264.8 758.4L1265.1 761.5L1265.3 764.2L1265.5 766.3L1265.8 768L1266 769.4L1266.3 770.5L1266.5 771.3L1266.7 772L1267 772.5L1267.2 772.8L1267.5 773.1L1267.7 773.5L1268 773.8L1268.2 774.1L1268.4 774.3L1268.7 774.4L1268.9 774.5L1269.2 774.8L1269.4 775L1269.6 775.3L1269.9 775.5L1270.1 775.7L1270.4 776L1270.6 776L1270.9 776.1L1271.1 776.1L1271.3 776.2L1271.6 776.3L1271.8 776.4L1272.1 776.5L1272.3 776.5L1272.5 776.5L1272.8 776.7L1273 776.8L1273.3 776.9L1273.5 777L1273.8 777.1L1274 777.2L1274.2 777.2L1274.5 777.2L1274.7 777.2L1275 777.4L1275.2 777.5L1275.5 777.7L1275.7 777.5L1275.9 777.3L1276.2 777.2L1276.4 777.3L1276.7 777.4L1276.9 777.5L1277.6 777.7L1278.4 777.3L1279.1 777.5L1279.8 777.3L1280.5 777.3L1281.3 777.2L1282 777.3L1282.7 777.4L1283.4 777.2L1284.2 777.5L1284.9 777.2L1285.6 777L1286.3 777L1287.1 776.7L1287.8 776.9L1288.5 776.8L1288.8 776.6L1289 776.4L1289.2 776.2L1289.5 776.1L1289.7 776L1290 775.9L1290.2 775.7L1290.4 775.4L1290.7 775.1L1290.9 775L1291.2 774.8L1291.4 774.6L1291.7 774.4L1291.9 774.2L1292.1 774L1292.4 773.7L1292.6 773.3L1292.9 772.9L1293.1 772.4L1293.4 771.9L1293.6 771.3L1293.8 770.7L1294.1 770L1294.3 769.3L1294.6 768.4L1294.8 767.5L1295 766.3L1295.3 765.1L1295.5 763.5L1295.8 761.7L1296 759.6L1296.3 756.9L1296.5 753.5L1296.7 749L1297 743.3L1297.2 736.2L1297.5 727.4L1297.7 716.8L1297.9 704.3L1298.2 689.9L1298.4 674.3L1298.7 658.4L1298.9 644L1299.2 633.6L1299.4 629.5L1299.6 632.6L1299.9 641.9L1300.1 655.1L1300.4 669.9L1300.6 684.3L1300.9 697.2L1301.1 708.1L1301.3 716.7L1301.6 723L1301.8 727.1L1302.1 729.1L1302.3 729.2L1302.5 727.3L1302.8 723.9L1303 719.3L1303.3 714.1L1303.5 709L1303.8 705.3L1304 703.9L1304.2 705.7L1304.5 710.3L1304.7 716.9L1305 724.3L1305.2 731.7L1305.4 738.7L1305.7 744.8L1305.9 750.1L1306.2 754.4L1306.4 758L1306.7 761L1306.9 763.3L1307.1 765.1L1307.4 766.6L1307.6 767.8L1307.9 768.8L1308.1 769.6L1308.4 770.4L1308.6 771.2L1308.8 771.8L1309.1 772.3L1309.3 772.7L1309.6 773.1L1309.8 773.5L1310 773.8L1310.3 774.1L1310.5 774.4L1310.8 774.7L1311 775L1311.3 775.2L1311.5 775.4L1311.7 775.5L1312 775.7L1312.2 775.9L1312.5 776.1L1312.7 776.3L1312.9 776.4L1313.2 776.6L1313.4 776.7L1313.7 776.8L1313.9 776.9L1314.2 777L1314.4 777.1L1314.6 777.2L1314.9 777.3L1315.1 777.4L1315.4 777.4L1315.6 777.4L1315.8 777.5L1316.1 777.5L1316.3 777.6L1316.6 777.7L1316.8 777.7L1317.1 777.8L1317.3 777.9L1317.5 778L1318.3 778L1319 778.4L1319.7 778.4L1320.4 778.3L1321.2 778.7L1321.9 778.3L1322.6 778.4L1323.3 778.3L1324.1 778.1L1324.8 778L1325.5 778L1326.3 778.4L1327 778.2L1327.7 778.8L1328.4 778.6L1329.2 778.4L1329.9 778.4L1330.6 778.2L1331.3 778.3L1332.1 778.3L1332.8 778.5L1333.5 778.2L1334.2 778.4L1335 778.4L1335.7 778.6L1336.4 778.8L1337.1 778.8L1337.9 778.9L1338.6 778.9L1339.3 779.1L1340 779L1340.8 778.8L1341.5 778.6L1342.2 778.3L1342.9 778.4L1343.7 778.5L1344.4 778.5L1345.1 778.5L1345.8 778.4L1346.6 778.3L1347.3 778.3L1348 778L1348.7 777.4L1349.5 777L1350.2 776.2L1350.9 775.4L1351.7 774.9L1352.4 774.6L1353.1 774.9L1353.8 775.8L1354.6 776.2L1355.3 776.5L1356 776.7L1356.7 776.6L1357.5 777L1358.2 777.5L1358.9 777.7L1359.6 778L1360.4 778L1361.1 778.4L1361.8 778.3L1362.5 778.4L1363.3 778.4L1364 778.5L1364.7 778.6L1365.4 778.9L1366.2 778.9L1366.9 779L1367.6 779.5L1368.3 779.4L1369.1 779.8L1369.8 779.3L1370.5 778.9L1371.2 779.1L1372 778.9L1372.7 779L1373.4 779.1L1374.1 778.8L1374.9 778.7L1375.6 778.9L1376.3 778.6L1377 778.6L1377.8 778.7L1378.5 778.7L1379.2 779.1L1380 779.1L1380.7 778.8L1381.4 779.1L1382.1 778.9L1382.9 779.1L1383.6 779.3L1384.3 779L1385 778.9L1385.8 778.7L1386.5 778.9L1387.2 778.6L1387.9 778.9L1388.7 779L1389.4 779.2L1390.1 779.5L1390.8 779.4L1391.6 779.2L1392.3 778.9L1393 779L1393.7 778.8L1394.5 779.2L1395.2 779L1395.9 778.9L1396.6 779.2L1397.4 778.9L1398.1 778.9L1398.8 778.9L1399.5 778.9L1400.3 778.8L1401 779.1L1401.7 779.1L1402.4 778.9L1403.2 778.8L1403.9 778.7L1404.6 778.6L1405.4 778.6L1406.1 778.7L1406.8 779.1L1407.5 779.2L1408.3 779.6L1409 779.6L1409.7 779.2L1410.4 779.3L1411.2 779.1L1411.9 779.1L1412.6 779.1L1413.3 778.8L1414.1 779.1L1414.8 779L1415.5 779.1L1416.2 779.2L1417 779.2L1417.7 779.4L1418.4 779.1L1419.1 778.9L1419.9 778.5L1420.6 778.5L1421.3 778.9L1422 779.1L1422.8 779.7L1423.5 779.6L1424.2 779.7L1424.9 779.6L1425.7 779.5L1426.4 779.5L1427.1 779.3L1427.8 779.1L1428.6 778.8L1429.3 778.6L1430 778.8L1430.8 778.9L1431.5 779.6L1432.2 779.9L1432.9 779.8L1433.7 779.6L1434.4 779.3L1435.1 779.2L1435.8 779.4L1436.6 780L1437.3 779.5L1438 779.4L1438.7 778.9L1439.5 778.3L1440.2 778.3L1440.9 778.4L1441.6 778.7L1442.4 778.7L1443.1 778.8L1443.8 778.3L1444.5 777.6L1445.3 777L1446 775.7L1446.7 775.5L1447.4 775.5L1448.2 775.8L1448.9 776.8L1449.6 776.7L1450.3 776.8L1451.1 777L1451.8 776.7L1452.5 777L1453.2 777.5L1454 777.7L1454.7 778.1L1455.4 778.5L1456.2 778.7L1456.9 779.3L1457.6 779.4L1458.3 779.3L1459.1 779.5L1459.8 779L1460.5 778.9L1461.2 779.4L1462 779.6L1462.7 779.8L1463.4 780L1464.1 779.5L1464.9 779.4L1465.6 779.5L1466.3 779.2L1467 779.2L1467.8 779.2L1468.5 779.1L1469.2 779.2L1469.9 779.5L1470.7 779.4L1471.4 779.5L1472.1 779.7L1472.8 779.7L1473.6 779.8L1474.3 779.6L1475 779.3L1475.7 779.3L1476.5 779.2L1477.2 779.3L1477.9 779.4L1478.6 779.3L1479.4 779.4L1480.1 779.2L1480.8 779.2L1481.6 779.2L1482.3 779.4L1483 779.3L1483.7 779.1L1484.5 779.3L1485.2 779L1485.9 779.2L1486.6 779.6L1487.4 779.1L1488.1 779.1L1488.8 779.3L1489.5 779.2L1490.3 779.5L1491 779.7L1491.7 779.5L1492.4 779.4L1493.2 779.4L1493.9 779.3L1494.6 779.1L1495.3 779L1496.1 778.9L1496.8 778.7L1497.5 778.4L1498.2 778L1499 777.7L1499.7 777.4L1500.4 777.5L1501.1 777.4L1501.9 776.9L1502.6 776.3L1503.3 775.3L1504 774.2L1504.8 772.5L1505.5 769.5L1506.2 764.5L1507 756.9L1507.7 746.2L1508.4 736.7L1509.1 734.2L1509.9 740.8L1510.6 750.2L1511.3 756.6L1512 759.2L1512.8 758.3L1513.5 755.1L1514.2 752.4L1514.9 753L1515.7 755.9L1516.4 758.5L1517.1 760.2L1517.8 762.1L1518.6 764.6L1519.3 767.1L1520 769.2L1520.7 770.9L1521.5 771.4L1522.2 771.5L1522.9 771.8L1523.6 772.4L1524.4 773.7L1525.1 775L1525.8 775.9L1526.5 776.7L1527.3 777.6L1528 777.8L1528.7 778.2L1529.4 778.2L1530.2 778.1L1530.9 778.3L1531.6 778.3L1532.3 778.8L1533.1 779.1L1533.8 779.5L1534.5 779.4L1535.3 779.1L1536 779L1536.7 778.7L1537.4 778.9L1538.2 779.2L1538.9 779.4L1539.6 779.4L1540.3 779.3L1541.1 779.1L1541.8 779.5L1542.5 779.3L1543.2 779.5L1544 779.7L1544.7 779.6L1545.4 779.7L1546.1 779.6L1546.9 779.3L1547.6 779.4L1548.3 779.2L1549 779.2L1549.8 779.3L1550.5 779L1551.2 779L1551.9 779.1L1552.7 779.4L1553.4 779.4L1554.1 779.6L1554.8 779.6L1555.6 779.4L1556.3 779.8L1557 779.7L1557.7 779.6L1558.5 779.8L1559.2 779.6L1559.9 779.7L1560.7 780L1561.4 779.5L1562.1 779.5L1562.8 779.8L1563.6 779.4L1564.3 780.2L1565 780.2L1565.7 780.1L1566.5 780.4L1567.2 780L1567.9 780.3L1568.6 780L1569.4 779.8L1570.1 779.9L1570.8 779.6L1571.5 779.6L1572.3 779.9L1573 779.7L1573.7 779.5L1574.4 779.6L1575.2 779.4L1575.9 779.6L1576.6 779.7L1577.3 779.9L1578.1 780L1578.8 779.8L1579.5 779.7L1580.2 779.8L1581 779.8L1581.7 780.1L1582.4 780L1583.1 779.2L1583.9 779.1L1584.6 779.4L1585.3 779.2L1586.1 779.8L1586.8 779.7L1587.5 779L1588.2 779.5L1589 779.4L1589.7 779.2L1590.4 779.6L1591.1 779.3L1591.9 779.3L1592.6 779.6L1593.3 779.3L1594 779.3L1594.8 779.1L1595.5 778.3L1596.2 777.8L1596.9 776.7L1597.7 775L1598.4 772.7L1599.1 769.2L1599.8 765L1600.6 761.7L1601.3 762.4L1602 765.6L1602.7 769.1L1603.5 771.7L1604.2 772.9L1604.9 772.9L1605.6 772L1606.4 770.6L1607.1 770.8L1607.8 772.5L1608.5 774.4L1609.3 776.4L1610 777.4L1610.7 778.4L1611.5 778.9L1612.2 779L1612.9 779.1L1613.6 778.9L1614.4 779.1L1615.1 778.8L1615.8 779.1L1616.5 779.3L1617.3 779.1L1618 779.6L1618.7 779.6L1619.4 779.8L1620.2 780L1620.9 779.6L1621.6 779.7L1622.3 779.5L1623.1 779.4L1623.8 779.5L1624.5 779.5L1625.2 779.8L1626 779.8L1626.7 779.8L1627.4 779.8L1628.1 779.7L1628.9 779.5L1629.6 779.6L1630.3 779.5L1631 779.5L1631.8 779.7L1632.5 779.8L1633.2 779.9L1633.9 779.9L1634.7 779.9L1635.4 780.2L1636.1 780.3L1636.9 780.3L1637.6 780.3L1638.3 780L1639 779.7L1639.8 779.2L1640.5 779.4L1641.2 779.5L1641.9 779.5L1642.7 779.8L1643.4 779.7L1644.1 779.7L1644.8 780L1645.6 779.8L1646.3 779.7L1647 779.6L1647.7 779.7L1648.5 780L1649.2 780L1649.9 780.3L1650.6 780.1L1651.4 779.8L1652.1 779.8L1652.8 779.7L1653.5 779.5L1654.3 779.7L1655 779.7L1655.7 779.6L1656.4 779.4L1657.2 779.2L1657.9 778.5L1658.6 778.1L1659.3 777.7L1660.1 777.2L1660.8 776.7L1661.5 776.1L1662.2 776.4L1663 776.4L1663.7 776.8L1664.4 777.4L1665.2 777.2L1665.9 777.4L1666.6 777.3L1667.3 777.3L1668.1 777.5L1668.8 777.3L1669.5 777.6L1670.2 778L1671 778.1L1671.7 778.4L1672.4 778.9L1673.1 778.8L1673.9 778.7L1674.6 778.8L1675.3 778.8L1676 778.8L1676.8 779.3L1677.5 779.4L1678.2 779.4L1678.9 779.8L1679.7 779.5L1680.4 779.2L1681.1 779.1L1681.8 778.4L1682.6 778.1L1683.3 778L1684 777.5L1684.7 777.2L1685.5 776.3L1686.2 774.4L1686.9 771.8L1687.6 768.3L1688.4 765.7L1689.1 766.2L1689.8 769.2L1690.6 771.8L1691.3 773.9L1692 775L1692.7 774.9L1693.5 774.5L1694.2 773.3L1694.9 772.9L1695.6 773.6L1696.4 774.9L1697.1 776.2L1697.8 777.2L1698.5 777.7L1699.3 778.4L1700 778.8L1700.7 778.8L1701.4 779.1L1702.2 779L1702.9 779.4L1703.6 779.2L1704.3 779.3L1705.1 779.5L1705.8 779.2L1706.5 779.6L1707.2 779.7L1708 779.6L1708.7 779.4L1709.4 779.5L1710.1 779.4L1710.9 779.4L1711.6 779.7L1712.3 779.5L1713 779.7L1713.8 779.7L1714.5 779.5L1715.2 779.5L1716 779.2L1716.7 779.3L1717.4 779.4L1718.1 779.5L1718.9 779.5L1719.6 779.7L1720.3 779.7L1721 779.7L1721.8 779.7L1722.5 779.5L1723.2 779.4L1723.9 779.5L1724.7 779.8L1725.4 779.8L1726.1 779.6L1726.8 779.4L1727.6 779.3L1728.3 779.4L1729 779.5L1729.7 779.1L1730.5 778.5L1731.2 777.9L1731.9 777.6L1732.6 777.3L1733.4 777L1734.1 776.1L1734.8 775.1L1735.5 774.1L1736.3 772.7L1737 771.5L1737.7 770L1738.4 769L1739.2 768.7L1739.9 769L1740.6 769.8L1741.4 770.5L1742.1 771.4L1742.8 772L1743.5 772.3L1744.3 772.5L1745 772.7L1745.7 773.2L1746.4 773.9L1747.2 774.6L1747.9 775.4L1748.6 776.1L1749.3 776.9L1750.1 777.8L1750.8 778.3L1751.5 778.8L1752.2 779.2L1753 779.3L1753.7 779.7L1754.4 779.4L1755.1 779.3L1755.9 779.3L1756.6 779L1757.3 779.2L1758 779L1758.8 779.1L1759.5 779.1L1760.2 779.3L1760.9 779.3L1761.7 779.6L1762.4 779.8L1763.1 779.7L1763.8 779.6L1764.6 778.9L1765.3 778.7L1766 779L1766.8 779.2L1767.5 779.5L1768.2 779.8L1768.9 779.6L1769.7 779.7L1770.4 779.8L1771.1 779.7L1771.8 779.8L1772.6 779.6L1773.3 779.6L1774 779.7L1774.7 779.8L1775.5 780L1776.2 780.3L1776.9 780.1L1777.6 780.1L1778.4 779.8L1779.1 779.5L1779.8 779.5L1780.5 779.4L1781.3 779.6L1782 779.8L1782.7 779.9L1783.4 780.1L1784.2 780.1L1784.9 779.8L1785.6 779.7L1786.3 779.4L1787.1 779.5L1787.8 779.5L1788.5 779.8L1789.2 779.8L1790 779.7L1790.7 779.7L1791.4 779.3L1792.2 779.3L1792.9 779.3L1793.6 779L1794.3 778.9L1795.1 778.6L1795.8 778.7L1796.5 778.1L1797.2 777.6L1798 776.4L1798.7 774.7L1799.4 772.2L1800.1 768.2L1800.9 763.9L1801.6 761.6L1802.3 763.3L1803 767.2L1803.8 771.1L1804.5 773.6L1805.2 774.7L1805.9 774.5L1806.7 773.3L1807.4 771.6L1808.1 770.4L1808.8 771.1L1809.6 773.5L1810.3 775.4L1811 776.9L1811.7 777.7L1812.5 777.9L1813.2 778.1L1813.9 778.4L1814.6 779L1815.4 779.2L1816.1 779.5L1816.8 779.7L1817.5 779.3L1818.3 779.4L1819 779.2L1819.7 779.2L1820.5 779.3L1821.2 779.3L1821.9 779.2L1822.6 779.1L1823.4 779.3L1824.1 779.5L1824.8 779.8L1825.5 780.1L1826.3 780.1" stroke="#000" stroke-width="6.8"/>
</g>
</g>
<g filter="url(#soft2)">
<rect x="416.2" y="902.8" width="8.8" height="73.1" fill="#9c9cff"/>
<rect x="418.9" y="903.8" width="3.4" height="72.1" fill="#0000ff"/>
<rect x="552.9" y="883.7" width="8.8" height="92.2" fill="#9c9cff"/>
<rect x="555.6" y="884.7" width="3.4" height="91.2" fill="#0000ff"/>
<rect x="594.9" y="961.1" width="8.8" height="14.8" fill="#9c9cff"/>
<rect x="597.6" y="962.1" width="3.4" height="13.8" fill="#0000ff"/>
<rect x="749.8" y="871.4" width="8.8" height="104.5" fill="#9c9cff"/>
<rect x="752.5" y="872.4" width="3.4" height="103.5" fill="#0000ff"/>
<rect x="1017.3" y="935.3" width="8.8" height="40.6" fill="#9c9cff"/>
<rect x="1020" y="936.3" width="3.4" height="39.6" fill="#0000ff"/>
<rect x="1110.2" y="902.8" width="8.8" height="73.1" fill="#9c9cff"/>
<rect x="1112.9" y="903.8" width="3.4" height="72.1" fill="#0000ff"/>
<rect x="1255.8" y="870.2" width="8.8" height="105.7" fill="#9c9cff"/>
<rect x="1258.5" y="871.2" width="3.4" height="104.7" fill="#0000ff"/>
<rect x="1688.8" y="960.3" width="8.8" height="15.6" fill="#9c9cff"/>
<rect x="1691.5" y="961.3" width="3.4" height="14.6" fill="#0000ff"/>
<rect x="136" y="972.7" width="1689" height="6.3" fill="#2020ff"/>
<rect x="136" y="973" width="1689" height="2.9" fill="#0000ff"/>
<rect x="136" y="1156.1" width="1688" height="2.9" fill="#8ccf8c"/>
<rect x="136" y="1161.9" width="1688" height="2.9" fill="#74c474"/>
<rect x="655" y="1153.5" width="5.2" height="3.9" fill="#5cbf5c"/>
<rect x="763.9" y="1154.5" width="5.2" height="2.9" fill="#5cbf5c"/>
<rect x="1091.9" y="1153.5" width="5.2" height="3.9" fill="#5cbf5c"/>
<rect x="1349.8" y="1154" width="5.2" height="3.4" fill="#5cbf5c"/>
<rect x="1444.1" y="1154" width="5.2" height="3.4" fill="#5cbf5c"/>
<rect x="1598.9" y="1153.5" width="5.2" height="3.9" fill="#5cbf5c"/>
<rect x="1659.4" y="1154.5" width="5.2" height="2.9" fill="#5cbf5c"/>
<rect x="1687.2" y="1153" width="5.2" height="4.4" fill="#5cbf5c"/>
<rect x="1707.8" y="1154.5" width="5.2" height="2.9" fill="#5cbf5c"/>
<rect x="1739.2" y="1153" width="5.2" height="4.4" fill="#5cbf5c"/>
<rect x="265.3" y="1111.6" width="6.2" height="48.8" fill="#149c14"/>
<rect x="265.3" y="1111.6" width="6.2" height="2.6" fill="#5cbf5c"/>
<rect x="496.6" y="1054.1" width="6.2" height="106.3" fill="#149c14"/>
<rect x="496.6" y="1054.1" width="6.2" height="2.6" fill="#5cbf5c"/>
<rect x="560" y="1135.6" width="6.2" height="24.8" fill="#149c14"/>
<rect x="560" y="1135.6" width="6.2" height="2.6" fill="#5cbf5c"/>
<rect x="694.7" y="1090.2" width="6.2" height="70.2" fill="#149c14"/>
<rect x="694.7" y="1090.2" width="6.2" height="2.6" fill="#5cbf5c"/>
<rect x="917.5" y="1123.6" width="6.2" height="36.8" fill="#149c14"/>
<rect x="917.5" y="1123.6" width="6.2" height="2.6" fill="#5cbf5c"/>
<rect x="1037" y="1066.2" width="6.2" height="94.2" fill="#149c14"/>
<rect x="1037" y="1066.2" width="6.2" height="2.6" fill="#5cbf5c"/>
<rect x="1128.7" y="1144.1" width="6.2" height="16.3" fill="#149c14"/>
<rect x="1128.7" y="1144.1" width="6.2" height="2.6" fill="#5cbf5c"/>
<rect x="1255.2" y="1135.1" width="6.2" height="25.3" fill="#149c14"/>
<rect x="1255.2" y="1135.1" width="6.2" height="2.6" fill="#5cbf5c"/>
<rect x="1296.1" y="1129.7" width="6.2" height="30.7" fill="#149c14"/>
<rect x="1296.1" y="1129.7" width="6.2" height="2.6" fill="#5cbf5c"/>
<rect x="1506" y="1128.7" width="6.2" height="31.7" fill="#149c14"/>
<rect x="1506" y="1128.7" width="6.2" height="2.6" fill="#5cbf5c"/>
<rect x="1514.7" y="1145.7" width="6.2" height="14.7" fill="#149c14"/>
<rect x="1514.7" y="1145.7" width="6.2" height="2.6" fill="#5cbf5c"/>
<rect x="1799" y="1148.6" width="6.2" height="11.8" fill="#149c14"/>
<rect x="1799" y="1148.6" width="6.2" height="2.6" fill="#5cbf5c"/>
<rect x="136" y="1158.9" width="1688" height="3.1" fill="#009400"/>
<rect x="136" y="1168.2" width="1688" height="2.8" fill="#bdbdbd"/>
<rect x="130" y="1174" width="1700" height="2.8" fill="#707070"/>
<rect x="136" y="15.5" width="1688" height="3.1" fill="#6a6a6a"/>
<rect x="1822.1" y="15" width="2.8" height="1188" fill="#7a7a7a"/>
<rect x="1828.1" y="12.5" width="2.8" height="1190.5" fill="#a8a8a8"/>
<rect x="370.8" y="1174" width="8.6" height="29.2" fill="#8a8a8a"/>
<rect x="612.7" y="1174" width="8.6" height="29.2" fill="#8a8a8a"/>
<rect x="854.6" y="1174" width="8.6" height="29.2" fill="#8a8a8a"/>
<rect x="1096.5" y="1174" width="8.6" height="29.2" fill="#8a8a8a"/>
<rect x="1338.4" y="1174" width="8.6" height="29.2" fill="#8a8a8a"/>
<rect x="1580.3" y="1174" width="8.6" height="29.2" fill="#8a8a8a"/>
<rect x="250.2" y="1174" width="8.4" height="14.2" fill="#8a8a8a"/>
<rect x="492.2" y="1174" width="8.4" height="14.2" fill="#8a8a8a"/>
<rect x="734" y="1174" width="8.4" height="14.2" fill="#8a8a8a"/>
<rect x="976" y="1174" width="8.4" height="14.2" fill="#8a8a8a"/>
<rect x="1217.8" y="1174" width="8.4" height="14.2" fill="#8a8a8a"/>
<rect x="1459.8" y="1174" width="8.4" height="14.2" fill="#8a8a8a"/>
<rect x="1701.7" y="1174" width="8.4" height="14.2" fill="#8a8a8a"/>
<rect x="130" y="1170.9" width="1700" height="3.2" fill="#000"/>
<rect x="130" y="12" width="1698.2" height="3.6" fill="#000"/>
<rect x="130" y="12" width="6" height="1191.6" fill="#0a0a0a"/>
<rect x="1824.8" y="12" width="3.4" height="1191.2" fill="#000"/>
<rect x="1828.1" y="964.5" width="2.9" height="74.5" fill="#333"/>
<rect x="1822.1" y="979.6" width="2.8" height="21.4" fill="#dcdcdc"/>
<rect x="373.4" y="1174" width="3.4" height="29.6" fill="#000"/>
<rect x="615.3" y="1174" width="3.4" height="29.6" fill="#000"/>
<rect x="857.2" y="1174" width="3.4" height="29.6" fill="#000"/>
<rect x="1099.1" y="1174" width="3.4" height="29.6" fill="#000"/>
<rect x="1341" y="1174" width="3.4" height="29.6" fill="#000"/>
<rect x="1582.9" y="1174" width="3.4" height="29.6" fill="#000"/>
<rect x="252.6" y="1174" width="3.6" height="14.6" fill="#000"/>
<rect x="494.6" y="1174" width="3.6" height="14.6" fill="#000"/>
<rect x="736.5" y="1174" width="3.6" height="14.6" fill="#000"/>
<rect x="978.4" y="1174" width="3.6" height="14.6" fill="#000"/>
<rect x="1220.2" y="1174" width="3.6" height="14.6" fill="#000"/>
<rect x="1462.2" y="1174" width="3.6" height="14.6" fill="#000"/>
<rect x="1704.1" y="1174" width="3.6" height="14.6" fill="#000"/>
<rect x="1165.5" y="153.8" width="169.7" height="12" fill="#ff9090"/>
<rect x="1165.5" y="157" width="169.7" height="5.9" fill="#ff0000"/>
<rect x="1224.5" y="547" width="170.5" height="8.8" fill="#2a2a2a"/>
<rect x="1224.5" y="550.2" width="170.5" height="2.8" fill="#000"/>
<rect x="1224.5" y="556.9" width="170.5" height="2.1" fill="#e4e4e4"/>
</g>
<g filter="url(#soft)">
<g fill="#383838">
<text transform="translate(427 861.9) rotate(-90) scale(0.970 1)" font-size="35" text-anchor="middle">(220)</text>
<text transform="translate(571 841.4) rotate(-90) scale(0.970 1)" font-size="35" text-anchor="middle">(311)</text>
<text transform="translate(610 919.4) rotate(-90) scale(0.970 1)" font-size="35" text-anchor="middle">(222)</text>
<text transform="translate(766 829.4) rotate(-90) scale(0.970 1)" font-size="35" text-anchor="middle">(400)</text>
<text transform="translate(1033 892.4) rotate(-90) scale(0.970 1)" font-size="35" text-anchor="middle">(422)</text>
<text transform="translate(1126 860.8) rotate(-90) scale(0.970 1)" font-size="35" text-anchor="middle">(511)</text>
<text transform="translate(1268.5 828.9) rotate(-90) scale(0.970 1)" font-size="35" text-anchor="middle">(440)</text>
<text transform="translate(1703.5 915.6) rotate(-90) scale(0.970 1)" font-size="35" text-anchor="middle">(444)</text>
<text transform="translate(278.5 1069.2) rotate(-90) scale(0.970 1)" font-size="35" text-anchor="middle">(012)</text>
<text transform="translate(509.5 1016.4) rotate(-90) scale(0.970 1)" font-size="35" text-anchor="middle">(104)</text>
<text transform="translate(572.5 1096.8) rotate(-90) scale(0.970 1)" font-size="35" text-anchor="middle">(110)</text>
<text transform="translate(707.5 1050.8) rotate(-90) scale(0.970 1)" font-size="35" text-anchor="middle">(113)</text>
<text transform="translate(931 1081.8) rotate(-90) scale(0.970 1)" font-size="35" text-anchor="middle">(024)</text>
<text transform="translate(1051.5 1026.4) rotate(-90) scale(0.970 1)" font-size="35" text-anchor="middle">(116)</text>
<text transform="translate(1142.3 1102) rotate(-90) scale(0.970 1)" font-size="35" text-anchor="middle">(018)</text>
<text transform="translate(1266 1095.9) rotate(-90) scale(0.970 1)" font-size="35" text-anchor="middle">(214)</text>
<text transform="translate(1309 1088.3) rotate(-90) scale(0.970 1)" font-size="35" text-anchor="middle">(300)</text>
<text transform="translate(1512.5 1081.3) rotate(-90) scale(0.970 1)" font-size="35" text-anchor="middle">(1010)</text>
<text transform="translate(1543.3 1110.3) rotate(-90) scale(0.970 1)" font-size="35" text-anchor="middle">(119)</text>
<text transform="translate(1810.7 1098.5) rotate(-90) scale(0.970 1)" font-size="35" text-anchor="middle">(0210)</text>
</g>
<g fill="#0c0c0c">
<text transform="translate(1807 184.5)" font-size="74" text-anchor="end">Micron powder</text>
<text transform="translate(1807 576)" font-size="74" text-anchor="end">Nano powder</text>
<text transform="translate(1806.5 850) scale(0.945 1)" font-size="58" text-anchor="end" fill="#1010ff">γ-Al<tspan font-size="40" dy="14.5">2</tspan><tspan dy="-14.5">O</tspan><tspan font-size="40" dy="14.5">3</tspan><tspan dy="-14.5"> PDF#50-0741</tspan></text>
<text transform="translate(1807.6 1028) scale(0.953 1)" font-size="58" text-anchor="end">α-Al<tspan font-size="40" dy="14.5">2</tspan><tspan dy="-14.5">O</tspan><tspan font-size="40" dy="14.5">3</tspan><tspan dy="-14.5"> PDF#46-1212</tspan></text>
</g>
<g fill="#3c3c3c">
<text transform="translate(133 1283) scale(0.930 1)" font-size="72" text-anchor="middle">20</text>
<text transform="translate(374.9 1283) scale(0.930 1)" font-size="72" text-anchor="middle">30</text>
<text transform="translate(616.8 1283) scale(0.930 1)" font-size="72" text-anchor="middle">40</text>
<text transform="translate(858.7 1283) scale(0.930 1)" font-size="72" text-anchor="middle">50</text>
<text transform="translate(1100.6 1283) scale(0.930 1)" font-size="72" text-anchor="middle">60</text>
<text transform="translate(1342.5 1283) scale(0.930 1)" font-size="72" text-anchor="middle">70</text>
<text transform="translate(1584.4 1283) scale(0.930 1)" font-size="72" text-anchor="middle">80</text>
<text transform="translate(1826.3 1283) scale(0.930 1)" font-size="72" text-anchor="middle">90</text>
</g>
<g fill="#111">
<text transform="translate(979.8 1366.5) scale(0.995 1)" font-size="83.5" text-anchor="middle">2<tspan font-style="italic">θ</tspan>(degree)</text>
<text transform="translate(76 618.4) rotate(-90) scale(0.985 1)" font-size="84" text-anchor="middle">Intensity(a.u.)</text>
</g>
</g>
</svg>
</body></html>
